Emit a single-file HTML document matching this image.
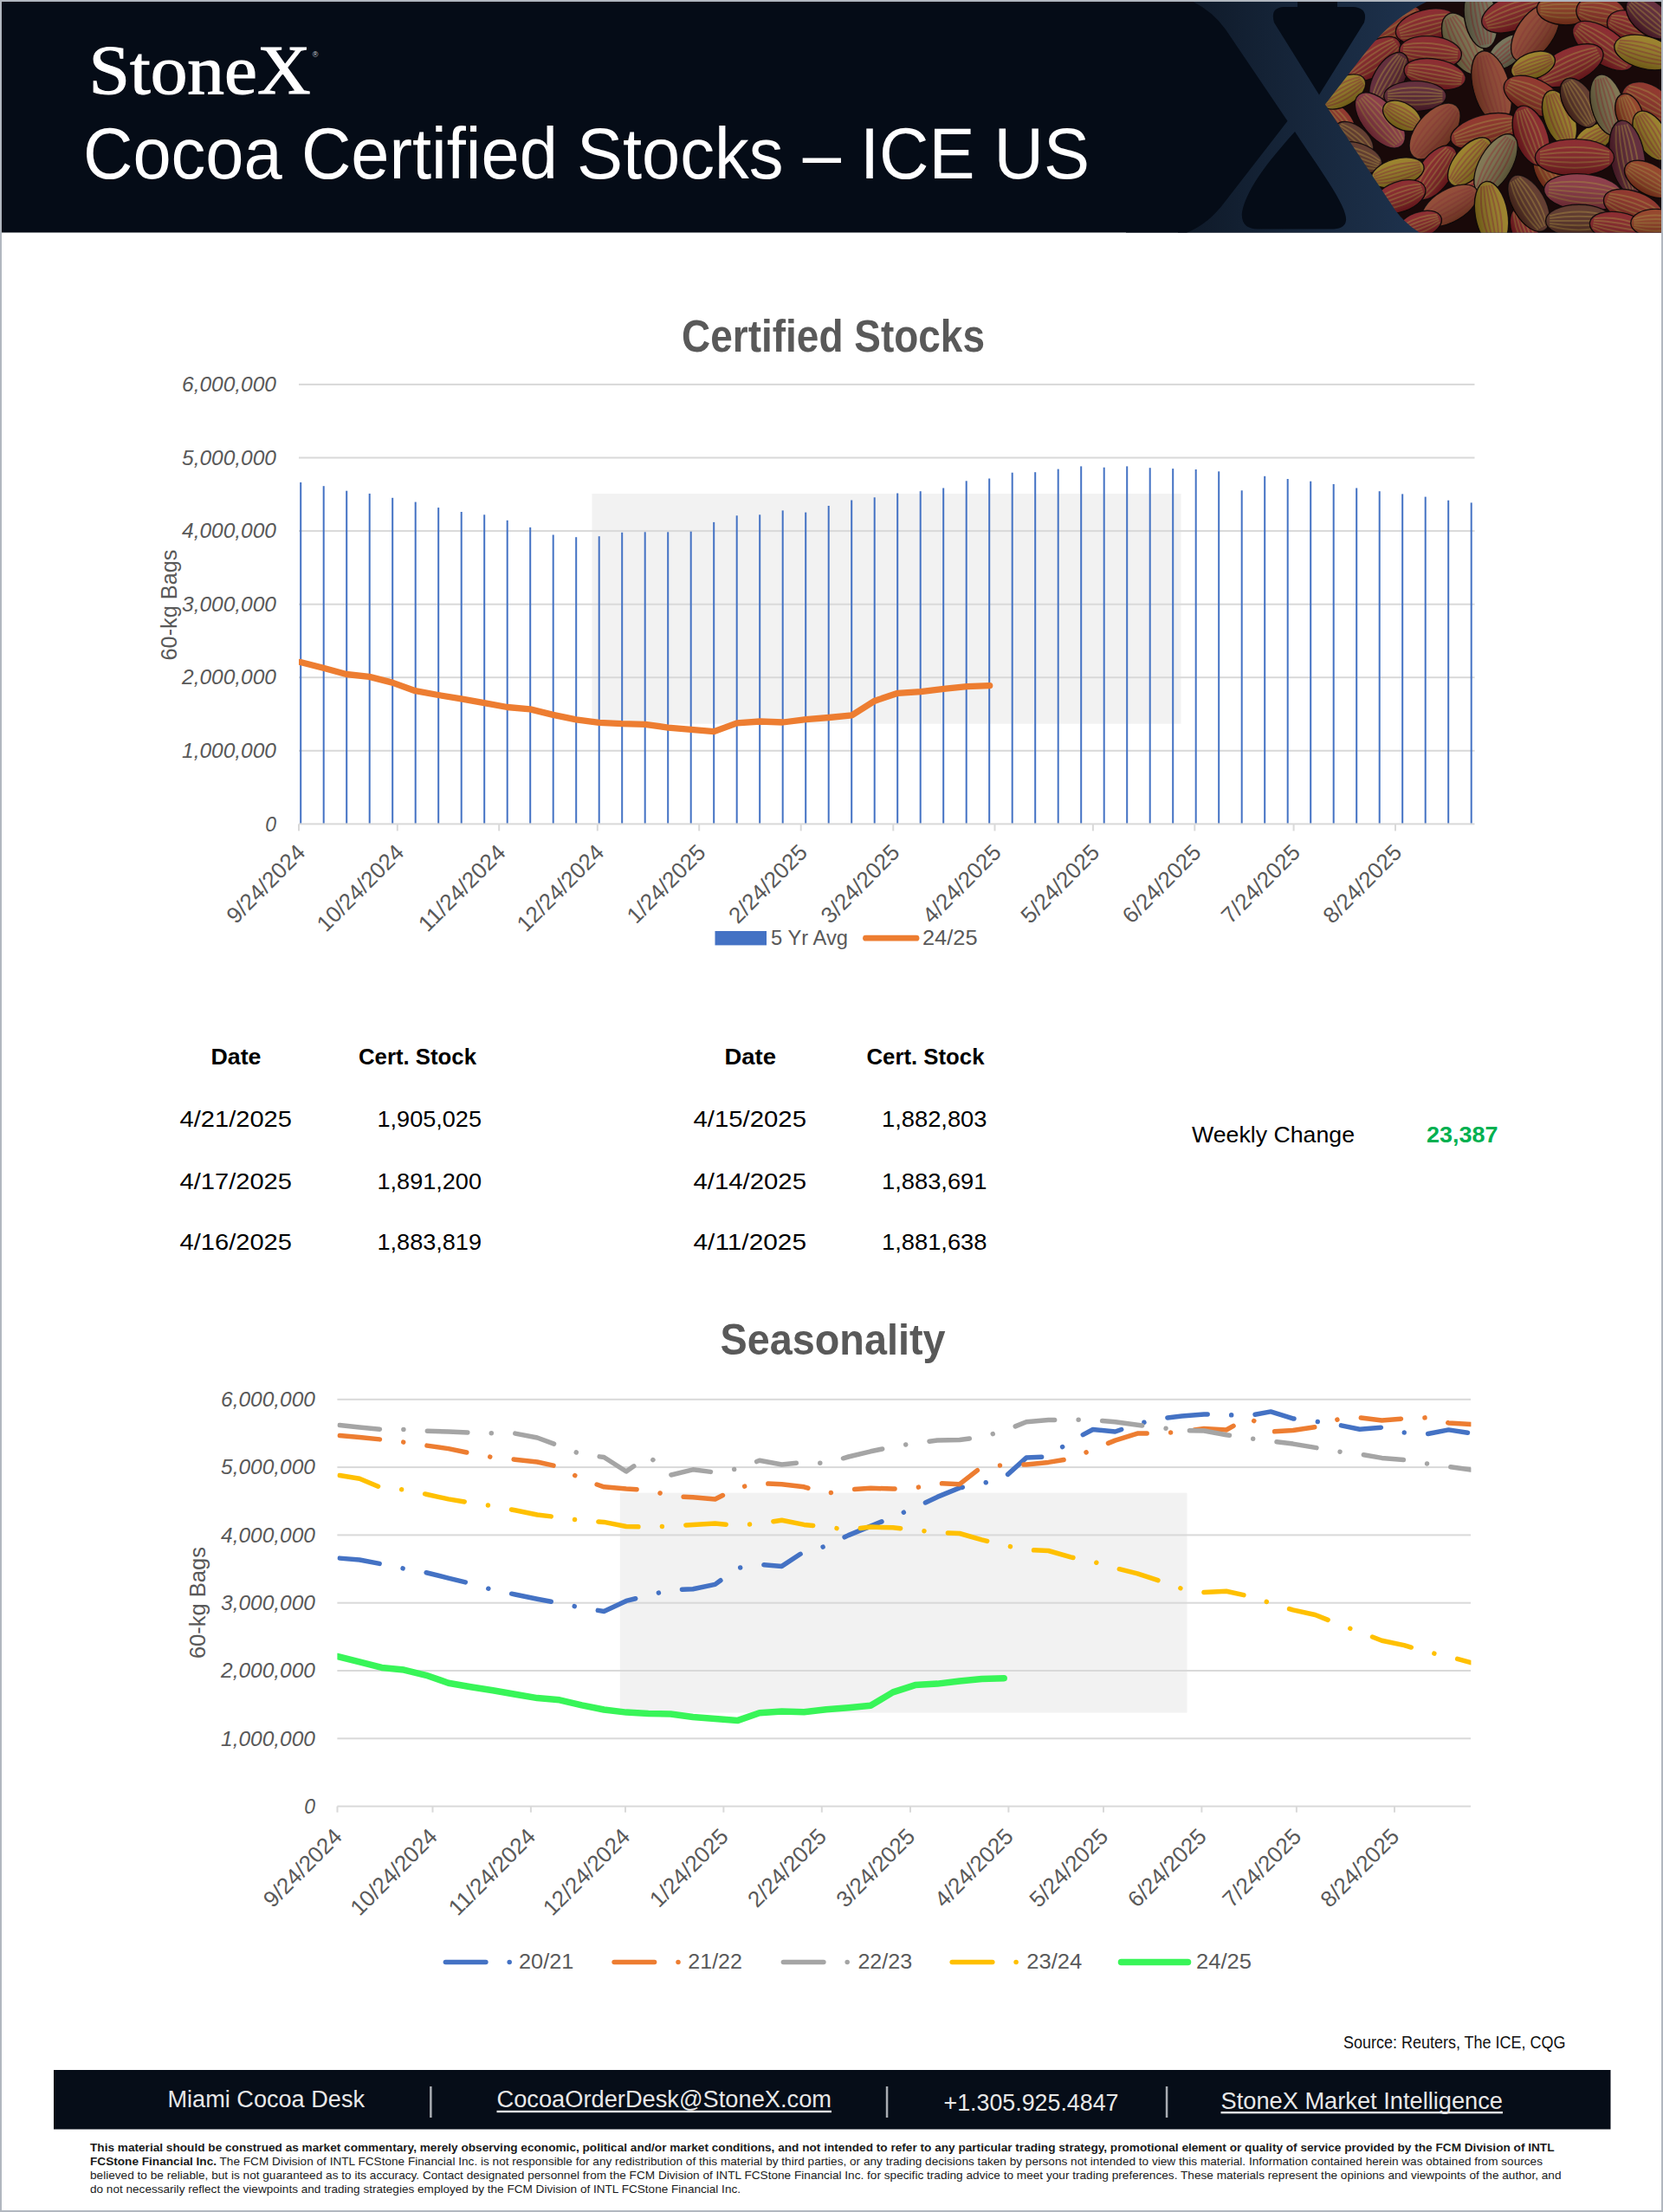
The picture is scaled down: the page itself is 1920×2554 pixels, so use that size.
<!DOCTYPE html>
<html><head><meta charset="utf-8"><style>
html,body{margin:0;padding:0;background:#fff;}
body{width:1920px;height:2554px;overflow:hidden;font-family:"Liberation Sans",sans-serif;}
svg{display:block;}
</style></head><body>
<svg width="1920" height="2554" viewBox="0 0 1920 2554">
<rect x="0" y="0" width="1920" height="2554" fill="#b1b7bf"/>
<rect x="2" y="2" width="1916" height="2550" fill="#ffffff"/>
<rect x="2" y="2" width="1916" height="266.5" fill="#050c17"/>
<defs><linearGradient id="navy" gradientUnits="userSpaceOnUse" x1="1370" x2="1660" y1="0" y2="0"><stop offset="0" stop-color="#0f1a29"/><stop offset="1" stop-color="#1f3450"/></linearGradient><clipPath id="hdr"><rect x="2" y="2" width="1916" height="266.5"/></clipPath></defs>
<g clip-path="url(#hdr)">
<rect x="1360" y="2" width="560" height="267" fill="url(#navy)"/>
<path d="M1300,-5 L1360,-5 Q1395,6 1415,34 L1486.5,139.7 L1415,232 C1400,252 1385,264 1362,272 L1300,272 Z" fill="#050c17"/>
<path d="M1498,-5 L1544,-5 L1544,8 L1562,8 Q1580,9 1575,26 L1523,109.4 L1471,26 Q1466,9 1482,8 L1498,8 Z" fill="#050c17"/>
<path d="M1495,152 C1470,180 1440,215 1434,245 Q1432,264 1452,264.5 L1540,264.5 Q1558,263 1553,247 C1548,228 1520,190 1495,152 Z" fill="#050c17"/>
</g>
<defs><clipPath id="cocoa"><path d="M1530,120.5 L1577,60 C1595,38 1615,16 1656,-2 L1925,-2 L1925,275 L1650,275 Q1625,262 1611,242.8 Z"/></clipPath><linearGradient id="podg" x1="0" x2="0" y1="0" y2="1"><stop offset="0" stop-color="#fff" stop-opacity="0.10"/><stop offset="1" stop-color="#000" stop-opacity="0.30"/></linearGradient></defs>
<defs><filter id="soft" x="-5%" y="-5%" width="110%" height="110%"><feGaussianBlur stdDeviation="0.7"/></filter></defs>
<g clip-path="url(#hdr)"><g clip-path="url(#cocoa)"><g filter="url(#soft)">
<rect x="1520" y="0" width="400" height="270" fill="#241010"/>
<g transform="translate(1590,10) rotate(-30)"><ellipse rx="31.2" ry="16.2" fill="#c8502a" stroke="#160808" stroke-width="1.4"/><path d="M-27.5,-5 Q0,-13.1 27.5,-5" stroke="#e0b048" stroke-opacity="0.5" stroke-width="2" fill="none"/><path d="M-27.5,-2.5 Q0,-6.5 27.5,-2.5" stroke="#e0b048" stroke-opacity="0.5" stroke-width="2" fill="none"/><path d="M-27.5,0 Q0,0 27.5,0" stroke="#e0b048" stroke-opacity="0.5" stroke-width="2" fill="none"/><path d="M-27.5,2.5 Q0,6.5 27.5,2.5" stroke="#e0b048" stroke-opacity="0.5" stroke-width="2" fill="none"/><path d="M-27.5,5 Q0,13.1 27.5,5" stroke="#e0b048" stroke-opacity="0.5" stroke-width="2" fill="none"/><ellipse rx="31.2" ry="16.2" fill="url(#podg)"/></g>
<g transform="translate(1545,140) rotate(50)"><ellipse rx="26.4" ry="15" fill="#c03a2c" stroke="#160808" stroke-width="1.4"/><path d="M-23.2,-4.7 Q0,-12.1 23.2,-4.7" stroke="#e0b048" stroke-opacity="0.5" stroke-width="2" fill="none"/><path d="M-23.2,-2.3 Q0,-6 23.2,-2.3" stroke="#e0b048" stroke-opacity="0.5" stroke-width="2" fill="none"/><path d="M-23.2,0 Q0,0 23.2,0" stroke="#e0b048" stroke-opacity="0.5" stroke-width="2" fill="none"/><path d="M-23.2,2.3 Q0,6 23.2,2.3" stroke="#e0b048" stroke-opacity="0.5" stroke-width="2" fill="none"/><path d="M-23.2,4.7 Q0,12.1 23.2,4.7" stroke="#e0b048" stroke-opacity="0.5" stroke-width="2" fill="none"/><ellipse rx="26.4" ry="15" fill="url(#podg)"/></g>
<g transform="translate(1580,245) rotate(40)"><ellipse rx="28.8" ry="15" fill="#7a402e" stroke="#160808" stroke-width="1.4"/><path d="M-25.3,-4.7 Q0,-12.1 25.3,-4.7" stroke="#e0b048" stroke-opacity="0.5" stroke-width="2" fill="none"/><path d="M-25.3,-2.3 Q0,-6 25.3,-2.3" stroke="#e0b048" stroke-opacity="0.5" stroke-width="2" fill="none"/><path d="M-25.3,0 Q0,0 25.3,0" stroke="#e0b048" stroke-opacity="0.5" stroke-width="2" fill="none"/><path d="M-25.3,2.3 Q0,6 25.3,2.3" stroke="#e0b048" stroke-opacity="0.5" stroke-width="2" fill="none"/><path d="M-25.3,4.7 Q0,12.1 25.3,4.7" stroke="#e0b048" stroke-opacity="0.5" stroke-width="2" fill="none"/><ellipse rx="28.8" ry="15" fill="url(#podg)"/></g>
<g transform="translate(1740,60) rotate(-40)"><ellipse rx="26.4" ry="15" fill="#9a9670" stroke="#160808" stroke-width="1.4"/><path d="M-23.2,-4.7 Q0,-12.1 23.2,-4.7" stroke="#b83838" stroke-opacity="0.5" stroke-width="2" fill="none"/><path d="M-23.2,-2.3 Q0,-6 23.2,-2.3" stroke="#b83838" stroke-opacity="0.5" stroke-width="2" fill="none"/><path d="M-23.2,0 Q0,0 23.2,0" stroke="#b83838" stroke-opacity="0.5" stroke-width="2" fill="none"/><path d="M-23.2,2.3 Q0,6 23.2,2.3" stroke="#b83838" stroke-opacity="0.5" stroke-width="2" fill="none"/><path d="M-23.2,4.7 Q0,12.1 23.2,4.7" stroke="#b83838" stroke-opacity="0.5" stroke-width="2" fill="none"/><ellipse rx="26.4" ry="15" fill="url(#podg)"/></g>
<g transform="translate(1700,220) rotate(-30)"><ellipse rx="24" ry="15" fill="#b8282e" stroke="#160808" stroke-width="1.4"/><path d="M-21.1,-4.7 Q0,-12.1 21.1,-4.7" stroke="#e0b048" stroke-opacity="0.5" stroke-width="2" fill="none"/><path d="M-21.1,-2.3 Q0,-6 21.1,-2.3" stroke="#e0b048" stroke-opacity="0.5" stroke-width="2" fill="none"/><path d="M-21.1,0 Q0,0 21.1,0" stroke="#e0b048" stroke-opacity="0.5" stroke-width="2" fill="none"/><path d="M-21.1,2.3 Q0,6 21.1,2.3" stroke="#e0b048" stroke-opacity="0.5" stroke-width="2" fill="none"/><path d="M-21.1,4.7 Q0,12.1 21.1,4.7" stroke="#e0b048" stroke-opacity="0.5" stroke-width="2" fill="none"/><ellipse rx="24" ry="15" fill="url(#podg)"/></g>
<g transform="translate(1790,200) rotate(60)"><ellipse rx="28.8" ry="16.2" fill="#c8502a" stroke="#160808" stroke-width="1.4"/><path d="M-25.3,-5 Q0,-13.1 25.3,-5" stroke="#e0b048" stroke-opacity="0.5" stroke-width="2" fill="none"/><path d="M-25.3,-2.5 Q0,-6.5 25.3,-2.5" stroke="#e0b048" stroke-opacity="0.5" stroke-width="2" fill="none"/><path d="M-25.3,0 Q0,0 25.3,0" stroke="#e0b048" stroke-opacity="0.5" stroke-width="2" fill="none"/><path d="M-25.3,2.5 Q0,6.5 25.3,2.5" stroke="#e0b048" stroke-opacity="0.5" stroke-width="2" fill="none"/><path d="M-25.3,5 Q0,13.1 25.3,5" stroke="#e0b048" stroke-opacity="0.5" stroke-width="2" fill="none"/><ellipse rx="28.8" ry="16.2" fill="url(#podg)"/></g>
<g transform="translate(1840,160) rotate(-30)"><ellipse rx="24" ry="15" fill="#d0aa2a" stroke="#160808" stroke-width="1.4"/><path d="M-21.1,-4.7 Q0,-12.1 21.1,-4.7" stroke="#b83838" stroke-opacity="0.5" stroke-width="2" fill="none"/><path d="M-21.1,-2.3 Q0,-6 21.1,-2.3" stroke="#b83838" stroke-opacity="0.5" stroke-width="2" fill="none"/><path d="M-21.1,0 Q0,0 21.1,0" stroke="#b83838" stroke-opacity="0.5" stroke-width="2" fill="none"/><path d="M-21.1,2.3 Q0,6 21.1,2.3" stroke="#b83838" stroke-opacity="0.5" stroke-width="2" fill="none"/><path d="M-21.1,4.7 Q0,12.1 21.1,4.7" stroke="#b83838" stroke-opacity="0.5" stroke-width="2" fill="none"/><ellipse rx="24" ry="15" fill="url(#podg)"/></g>
<g transform="translate(1760,265) rotate(70)"><ellipse rx="26.4" ry="15" fill="#b8282e" stroke="#160808" stroke-width="1.4"/><path d="M-23.2,-4.7 Q0,-12.1 23.2,-4.7" stroke="#e0b048" stroke-opacity="0.5" stroke-width="2" fill="none"/><path d="M-23.2,-2.3 Q0,-6 23.2,-2.3" stroke="#e0b048" stroke-opacity="0.5" stroke-width="2" fill="none"/><path d="M-23.2,0 Q0,0 23.2,0" stroke="#e0b048" stroke-opacity="0.5" stroke-width="2" fill="none"/><path d="M-23.2,2.3 Q0,6 23.2,2.3" stroke="#e0b048" stroke-opacity="0.5" stroke-width="2" fill="none"/><path d="M-23.2,4.7 Q0,12.1 23.2,4.7" stroke="#e0b048" stroke-opacity="0.5" stroke-width="2" fill="none"/><ellipse rx="26.4" ry="15" fill="url(#podg)"/></g>
<g transform="translate(1608.6,30.3) rotate(-30)"><ellipse rx="36" ry="18.8" fill="#c03a2c" stroke="#160808" stroke-width="1.4"/><path d="M-31.7,-5.8 Q0,-15.1 31.7,-5.8" stroke="#e0b048" stroke-opacity="0.5" stroke-width="2" fill="none"/><path d="M-31.7,-2.9 Q0,-7.6 31.7,-2.9" stroke="#e0b048" stroke-opacity="0.5" stroke-width="2" fill="none"/><path d="M-31.7,0 Q0,0 31.7,0" stroke="#e0b048" stroke-opacity="0.5" stroke-width="2" fill="none"/><path d="M-31.7,2.9 Q0,7.6 31.7,2.9" stroke="#e0b048" stroke-opacity="0.5" stroke-width="2" fill="none"/><path d="M-31.7,5.8 Q0,15.1 31.7,5.8" stroke="#e0b048" stroke-opacity="0.5" stroke-width="2" fill="none"/><ellipse rx="36" ry="18.8" fill="url(#podg)"/></g>
<g transform="translate(1646.5,30.3) rotate(-15)"><ellipse rx="36" ry="18.8" fill="#b8282e" stroke="#160808" stroke-width="1.4"/><path d="M-31.7,-5.8 Q0,-15.1 31.7,-5.8" stroke="#e0b048" stroke-opacity="0.5" stroke-width="2" fill="none"/><path d="M-31.7,-2.9 Q0,-7.6 31.7,-2.9" stroke="#e0b048" stroke-opacity="0.5" stroke-width="2" fill="none"/><path d="M-31.7,0 Q0,0 31.7,0" stroke="#e0b048" stroke-opacity="0.5" stroke-width="2" fill="none"/><path d="M-31.7,2.9 Q0,7.6 31.7,2.9" stroke="#e0b048" stroke-opacity="0.5" stroke-width="2" fill="none"/><path d="M-31.7,5.8 Q0,15.1 31.7,5.8" stroke="#e0b048" stroke-opacity="0.5" stroke-width="2" fill="none"/><ellipse rx="36" ry="18.8" fill="url(#podg)"/></g>
<g transform="translate(1689.4,50.5) rotate(63)"><ellipse rx="38.4" ry="20" fill="#a89a64" stroke="#160808" stroke-width="1.4"/><path d="M-33.8,-6.2 Q0,-16.1 33.8,-6.2" stroke="#b83838" stroke-opacity="0.5" stroke-width="2" fill="none"/><path d="M-33.8,-3.1 Q0,-8.1 33.8,-3.1" stroke="#b83838" stroke-opacity="0.5" stroke-width="2" fill="none"/><path d="M-33.8,0 Q0,0 33.8,0" stroke="#b83838" stroke-opacity="0.5" stroke-width="2" fill="none"/><path d="M-33.8,3.1 Q0,8.1 33.8,3.1" stroke="#b83838" stroke-opacity="0.5" stroke-width="2" fill="none"/><path d="M-33.8,6.2 Q0,16.1 33.8,6.2" stroke="#b83838" stroke-opacity="0.5" stroke-width="2" fill="none"/><ellipse rx="38.4" ry="20" fill="url(#podg)"/></g>
<g transform="translate(1709.6,20.2) rotate(80)"><ellipse rx="36" ry="18.8" fill="#9a9670" stroke="#160808" stroke-width="1.4"/><path d="M-31.7,-5.8 Q0,-15.1 31.7,-5.8" stroke="#b83838" stroke-opacity="0.5" stroke-width="2" fill="none"/><path d="M-31.7,-2.9 Q0,-7.6 31.7,-2.9" stroke="#b83838" stroke-opacity="0.5" stroke-width="2" fill="none"/><path d="M-31.7,0 Q0,0 31.7,0" stroke="#b83838" stroke-opacity="0.5" stroke-width="2" fill="none"/><path d="M-31.7,2.9 Q0,7.6 31.7,2.9" stroke="#b83838" stroke-opacity="0.5" stroke-width="2" fill="none"/><path d="M-31.7,5.8 Q0,15.1 31.7,5.8" stroke="#b83838" stroke-opacity="0.5" stroke-width="2" fill="none"/><ellipse rx="36" ry="18.8" fill="url(#podg)"/></g>
<g transform="translate(1747.5,15.2) rotate(-20)"><ellipse rx="38.4" ry="20" fill="#b8282e" stroke="#160808" stroke-width="1.4"/><path d="M-33.8,-6.2 Q0,-16.1 33.8,-6.2" stroke="#e0b048" stroke-opacity="0.5" stroke-width="2" fill="none"/><path d="M-33.8,-3.1 Q0,-8.1 33.8,-3.1" stroke="#e0b048" stroke-opacity="0.5" stroke-width="2" fill="none"/><path d="M-33.8,0 Q0,0 33.8,0" stroke="#e0b048" stroke-opacity="0.5" stroke-width="2" fill="none"/><path d="M-33.8,3.1 Q0,8.1 33.8,3.1" stroke="#e0b048" stroke-opacity="0.5" stroke-width="2" fill="none"/><path d="M-33.8,6.2 Q0,16.1 33.8,6.2" stroke="#e0b048" stroke-opacity="0.5" stroke-width="2" fill="none"/><ellipse rx="38.4" ry="20" fill="url(#podg)"/></g>
<g transform="translate(1772.7,37.9) rotate(-55)"><ellipse rx="38.4" ry="21.2" fill="#c45a3a" stroke="#160808" stroke-width="1.4"/><path d="M-33.8,-6.6 Q0,-17.1 33.8,-6.6" stroke="#b83838" stroke-opacity="0.5" stroke-width="2" fill="none"/><path d="M-33.8,-3.3 Q0,-8.6 33.8,-3.3" stroke="#b83838" stroke-opacity="0.5" stroke-width="2" fill="none"/><path d="M-33.8,0 Q0,0 33.8,0" stroke="#b83838" stroke-opacity="0.5" stroke-width="2" fill="none"/><path d="M-33.8,3.3 Q0,8.6 33.8,3.3" stroke="#b83838" stroke-opacity="0.5" stroke-width="2" fill="none"/><path d="M-33.8,6.6 Q0,17.1 33.8,6.6" stroke="#b83838" stroke-opacity="0.5" stroke-width="2" fill="none"/><ellipse rx="38.4" ry="21.2" fill="url(#podg)"/></g>
<g transform="translate(1808,10.1) rotate(0)"><ellipse rx="33.6" ry="18.8" fill="#c8502a" stroke="#160808" stroke-width="1.4"/><path d="M-29.6,-5.8 Q0,-15.1 29.6,-5.8" stroke="#e0b048" stroke-opacity="0.5" stroke-width="2" fill="none"/><path d="M-29.6,-2.9 Q0,-7.6 29.6,-2.9" stroke="#e0b048" stroke-opacity="0.5" stroke-width="2" fill="none"/><path d="M-29.6,0 Q0,0 29.6,0" stroke="#e0b048" stroke-opacity="0.5" stroke-width="2" fill="none"/><path d="M-29.6,2.9 Q0,7.6 29.6,2.9" stroke="#e0b048" stroke-opacity="0.5" stroke-width="2" fill="none"/><path d="M-29.6,5.8 Q0,15.1 29.6,5.8" stroke="#e0b048" stroke-opacity="0.5" stroke-width="2" fill="none"/><ellipse rx="33.6" ry="18.8" fill="url(#podg)"/></g>
<g transform="translate(1848.5,15.2) rotate(10)"><ellipse rx="28.8" ry="20" fill="#c03a2c" stroke="#160808" stroke-width="1.4"/><path d="M-25.3,-6.2 Q0,-16.1 25.3,-6.2" stroke="#e0b048" stroke-opacity="0.5" stroke-width="2" fill="none"/><path d="M-25.3,-3.1 Q0,-8.1 25.3,-3.1" stroke="#e0b048" stroke-opacity="0.5" stroke-width="2" fill="none"/><path d="M-25.3,0 Q0,0 25.3,0" stroke="#e0b048" stroke-opacity="0.5" stroke-width="2" fill="none"/><path d="M-25.3,3.1 Q0,8.1 25.3,3.1" stroke="#e0b048" stroke-opacity="0.5" stroke-width="2" fill="none"/><path d="M-25.3,6.2 Q0,16.1 25.3,6.2" stroke="#e0b048" stroke-opacity="0.5" stroke-width="2" fill="none"/><ellipse rx="28.8" ry="20" fill="url(#podg)"/></g>
<g transform="translate(1878.8,30.3) rotate(20)"><ellipse rx="24" ry="17.5" fill="#b8282e" stroke="#160808" stroke-width="1.4"/><path d="M-21.1,-5.4 Q0,-14.1 21.1,-5.4" stroke="#e0b048" stroke-opacity="0.5" stroke-width="2" fill="none"/><path d="M-21.1,-2.7 Q0,-7.1 21.1,-2.7" stroke="#e0b048" stroke-opacity="0.5" stroke-width="2" fill="none"/><path d="M-21.1,0 Q0,0 21.1,0" stroke="#e0b048" stroke-opacity="0.5" stroke-width="2" fill="none"/><path d="M-21.1,2.7 Q0,7.1 21.1,2.7" stroke="#e0b048" stroke-opacity="0.5" stroke-width="2" fill="none"/><path d="M-21.1,5.4 Q0,14.1 21.1,5.4" stroke="#e0b048" stroke-opacity="0.5" stroke-width="2" fill="none"/><ellipse rx="24" ry="17.5" fill="url(#podg)"/></g>
<g transform="translate(1904,20.2) rotate(40)"><ellipse rx="31.2" ry="18.8" fill="#7c2c40" stroke="#160808" stroke-width="1.4"/><path d="M-27.5,-5.8 Q0,-15.1 27.5,-5.8" stroke="#e0b048" stroke-opacity="0.5" stroke-width="2" fill="none"/><path d="M-27.5,-2.9 Q0,-7.6 27.5,-2.9" stroke="#e0b048" stroke-opacity="0.5" stroke-width="2" fill="none"/><path d="M-27.5,0 Q0,0 27.5,0" stroke="#e0b048" stroke-opacity="0.5" stroke-width="2" fill="none"/><path d="M-27.5,2.9 Q0,7.6 27.5,2.9" stroke="#e0b048" stroke-opacity="0.5" stroke-width="2" fill="none"/><path d="M-27.5,5.8 Q0,15.1 27.5,5.8" stroke="#e0b048" stroke-opacity="0.5" stroke-width="2" fill="none"/><ellipse rx="31.2" ry="18.8" fill="url(#podg)"/></g>
<g transform="translate(1851,53) rotate(35)"><ellipse rx="40.8" ry="20" fill="#b8282e" stroke="#160808" stroke-width="1.4"/><path d="M-35.9,-6.2 Q0,-16.1 35.9,-6.2" stroke="#e0b048" stroke-opacity="0.5" stroke-width="2" fill="none"/><path d="M-35.9,-3.1 Q0,-8.1 35.9,-3.1" stroke="#e0b048" stroke-opacity="0.5" stroke-width="2" fill="none"/><path d="M-35.9,0 Q0,0 35.9,0" stroke="#e0b048" stroke-opacity="0.5" stroke-width="2" fill="none"/><path d="M-35.9,3.1 Q0,8.1 35.9,3.1" stroke="#e0b048" stroke-opacity="0.5" stroke-width="2" fill="none"/><path d="M-35.9,6.2 Q0,16.1 35.9,6.2" stroke="#e0b048" stroke-opacity="0.5" stroke-width="2" fill="none"/><ellipse rx="40.8" ry="20" fill="url(#podg)"/></g>
<g transform="translate(1899,60.6) rotate(15)"><ellipse rx="36" ry="18.8" fill="#d0aa2a" stroke="#160808" stroke-width="1.4"/><path d="M-31.7,-5.8 Q0,-15.1 31.7,-5.8" stroke="#b83838" stroke-opacity="0.5" stroke-width="2" fill="none"/><path d="M-31.7,-2.9 Q0,-7.6 31.7,-2.9" stroke="#b83838" stroke-opacity="0.5" stroke-width="2" fill="none"/><path d="M-31.7,0 Q0,0 31.7,0" stroke="#b83838" stroke-opacity="0.5" stroke-width="2" fill="none"/><path d="M-31.7,2.9 Q0,7.6 31.7,2.9" stroke="#b83838" stroke-opacity="0.5" stroke-width="2" fill="none"/><path d="M-31.7,5.8 Q0,15.1 31.7,5.8" stroke="#b83838" stroke-opacity="0.5" stroke-width="2" fill="none"/><ellipse rx="36" ry="18.8" fill="url(#podg)"/></g>
<g transform="translate(1813,75.8) rotate(-25)"><ellipse rx="40.8" ry="20" fill="#b8282e" stroke="#160808" stroke-width="1.4"/><path d="M-35.9,-6.2 Q0,-16.1 35.9,-6.2" stroke="#e0b048" stroke-opacity="0.5" stroke-width="2" fill="none"/><path d="M-35.9,-3.1 Q0,-8.1 35.9,-3.1" stroke="#e0b048" stroke-opacity="0.5" stroke-width="2" fill="none"/><path d="M-35.9,0 Q0,0 35.9,0" stroke="#e0b048" stroke-opacity="0.5" stroke-width="2" fill="none"/><path d="M-35.9,3.1 Q0,8.1 35.9,3.1" stroke="#e0b048" stroke-opacity="0.5" stroke-width="2" fill="none"/><path d="M-35.9,6.2 Q0,16.1 35.9,6.2" stroke="#e0b048" stroke-opacity="0.5" stroke-width="2" fill="none"/><ellipse rx="40.8" ry="20" fill="url(#podg)"/></g>
<g transform="translate(1770,75.8) rotate(-20)"><ellipse rx="26.4" ry="15" fill="#d0aa2a" stroke="#160808" stroke-width="1.4"/><path d="M-23.2,-4.7 Q0,-12.1 23.2,-4.7" stroke="#b83838" stroke-opacity="0.5" stroke-width="2" fill="none"/><path d="M-23.2,-2.3 Q0,-6 23.2,-2.3" stroke="#b83838" stroke-opacity="0.5" stroke-width="2" fill="none"/><path d="M-23.2,0 Q0,0 23.2,0" stroke="#b83838" stroke-opacity="0.5" stroke-width="2" fill="none"/><path d="M-23.2,2.3 Q0,6 23.2,2.3" stroke="#b83838" stroke-opacity="0.5" stroke-width="2" fill="none"/><path d="M-23.2,4.7 Q0,12.1 23.2,4.7" stroke="#b83838" stroke-opacity="0.5" stroke-width="2" fill="none"/><ellipse rx="26.4" ry="15" fill="url(#podg)"/></g>
<g transform="translate(1722,101) rotate(75)"><ellipse rx="43.2" ry="21.2" fill="#c45a3a" stroke="#160808" stroke-width="1.4"/><path d="M-38,-6.6 Q0,-17.1 38,-6.6" stroke="#b83838" stroke-opacity="0.5" stroke-width="2" fill="none"/><path d="M-38,-3.3 Q0,-8.6 38,-3.3" stroke="#b83838" stroke-opacity="0.5" stroke-width="2" fill="none"/><path d="M-38,0 Q0,0 38,0" stroke="#b83838" stroke-opacity="0.5" stroke-width="2" fill="none"/><path d="M-38,3.3 Q0,8.6 38,3.3" stroke="#b83838" stroke-opacity="0.5" stroke-width="2" fill="none"/><path d="M-38,6.6 Q0,17.1 38,6.6" stroke="#b83838" stroke-opacity="0.5" stroke-width="2" fill="none"/><ellipse rx="43.2" ry="21.2" fill="url(#podg)"/></g>
<g transform="translate(1770,111) rotate(25)"><ellipse rx="36" ry="20" fill="#c03a2c" stroke="#160808" stroke-width="1.4"/><path d="M-31.7,-6.2 Q0,-16.1 31.7,-6.2" stroke="#e0b048" stroke-opacity="0.5" stroke-width="2" fill="none"/><path d="M-31.7,-3.1 Q0,-8.1 31.7,-3.1" stroke="#e0b048" stroke-opacity="0.5" stroke-width="2" fill="none"/><path d="M-31.7,0 Q0,0 31.7,0" stroke="#e0b048" stroke-opacity="0.5" stroke-width="2" fill="none"/><path d="M-31.7,3.1 Q0,8.1 31.7,3.1" stroke="#e0b048" stroke-opacity="0.5" stroke-width="2" fill="none"/><path d="M-31.7,6.2 Q0,16.1 31.7,6.2" stroke="#e0b048" stroke-opacity="0.5" stroke-width="2" fill="none"/><ellipse rx="36" ry="20" fill="url(#podg)"/></g>
<g transform="translate(1800.5,136.4) rotate(70)"><ellipse rx="33.6" ry="17.5" fill="#d0aa2a" stroke="#160808" stroke-width="1.4"/><path d="M-29.6,-5.4 Q0,-14.1 29.6,-5.4" stroke="#b83838" stroke-opacity="0.5" stroke-width="2" fill="none"/><path d="M-29.6,-2.7 Q0,-7.1 29.6,-2.7" stroke="#b83838" stroke-opacity="0.5" stroke-width="2" fill="none"/><path d="M-29.6,0 Q0,0 29.6,0" stroke="#b83838" stroke-opacity="0.5" stroke-width="2" fill="none"/><path d="M-29.6,2.7 Q0,7.1 29.6,2.7" stroke="#b83838" stroke-opacity="0.5" stroke-width="2" fill="none"/><path d="M-29.6,5.4 Q0,14.1 29.6,5.4" stroke="#b83838" stroke-opacity="0.5" stroke-width="2" fill="none"/><ellipse rx="33.6" ry="17.5" fill="url(#podg)"/></g>
<g transform="translate(1823,118.7) rotate(60)"><ellipse rx="31.2" ry="17.5" fill="#7a402e" stroke="#160808" stroke-width="1.4"/><path d="M-27.5,-5.4 Q0,-14.1 27.5,-5.4" stroke="#e0b048" stroke-opacity="0.5" stroke-width="2" fill="none"/><path d="M-27.5,-2.7 Q0,-7.1 27.5,-2.7" stroke="#e0b048" stroke-opacity="0.5" stroke-width="2" fill="none"/><path d="M-27.5,0 Q0,0 27.5,0" stroke="#e0b048" stroke-opacity="0.5" stroke-width="2" fill="none"/><path d="M-27.5,2.7 Q0,7.1 27.5,2.7" stroke="#e0b048" stroke-opacity="0.5" stroke-width="2" fill="none"/><path d="M-27.5,5.4 Q0,14.1 27.5,5.4" stroke="#e0b048" stroke-opacity="0.5" stroke-width="2" fill="none"/><ellipse rx="31.2" ry="17.5" fill="url(#podg)"/></g>
<g transform="translate(1856,121.2) rotate(75)"><ellipse rx="36" ry="18.8" fill="#a89a64" stroke="#160808" stroke-width="1.4"/><path d="M-31.7,-5.8 Q0,-15.1 31.7,-5.8" stroke="#b83838" stroke-opacity="0.5" stroke-width="2" fill="none"/><path d="M-31.7,-2.9 Q0,-7.6 31.7,-2.9" stroke="#b83838" stroke-opacity="0.5" stroke-width="2" fill="none"/><path d="M-31.7,0 Q0,0 31.7,0" stroke="#b83838" stroke-opacity="0.5" stroke-width="2" fill="none"/><path d="M-31.7,2.9 Q0,7.6 31.7,2.9" stroke="#b83838" stroke-opacity="0.5" stroke-width="2" fill="none"/><path d="M-31.7,5.8 Q0,15.1 31.7,5.8" stroke="#b83838" stroke-opacity="0.5" stroke-width="2" fill="none"/><ellipse rx="36" ry="18.8" fill="url(#podg)"/></g>
<g transform="translate(1901.5,118.7) rotate(30)"><ellipse rx="31.2" ry="21.2" fill="#c03a2c" stroke="#160808" stroke-width="1.4"/><path d="M-27.5,-6.6 Q0,-17.1 27.5,-6.6" stroke="#e0b048" stroke-opacity="0.5" stroke-width="2" fill="none"/><path d="M-27.5,-3.3 Q0,-8.6 27.5,-3.3" stroke="#e0b048" stroke-opacity="0.5" stroke-width="2" fill="none"/><path d="M-27.5,0 Q0,0 27.5,0" stroke="#e0b048" stroke-opacity="0.5" stroke-width="2" fill="none"/><path d="M-27.5,3.3 Q0,8.6 27.5,3.3" stroke="#e0b048" stroke-opacity="0.5" stroke-width="2" fill="none"/><path d="M-27.5,6.6 Q0,17.1 27.5,6.6" stroke="#e0b048" stroke-opacity="0.5" stroke-width="2" fill="none"/><ellipse rx="31.2" ry="21.2" fill="url(#podg)"/></g>
<g transform="translate(1881,131.3) rotate(70)"><ellipse rx="24" ry="15" fill="#c8502a" stroke="#160808" stroke-width="1.4"/><path d="M-21.1,-4.7 Q0,-12.1 21.1,-4.7" stroke="#e0b048" stroke-opacity="0.5" stroke-width="2" fill="none"/><path d="M-21.1,-2.3 Q0,-6 21.1,-2.3" stroke="#e0b048" stroke-opacity="0.5" stroke-width="2" fill="none"/><path d="M-21.1,0 Q0,0 21.1,0" stroke="#e0b048" stroke-opacity="0.5" stroke-width="2" fill="none"/><path d="M-21.1,2.3 Q0,6 21.1,2.3" stroke="#e0b048" stroke-opacity="0.5" stroke-width="2" fill="none"/><path d="M-21.1,4.7 Q0,12.1 21.1,4.7" stroke="#e0b048" stroke-opacity="0.5" stroke-width="2" fill="none"/><ellipse rx="24" ry="15" fill="url(#podg)"/></g>
<g transform="translate(1906.6,156.6) rotate(60)"><ellipse rx="31.2" ry="17.5" fill="#d0aa2a" stroke="#160808" stroke-width="1.4"/><path d="M-27.5,-5.4 Q0,-14.1 27.5,-5.4" stroke="#b83838" stroke-opacity="0.5" stroke-width="2" fill="none"/><path d="M-27.5,-2.7 Q0,-7.1 27.5,-2.7" stroke="#b83838" stroke-opacity="0.5" stroke-width="2" fill="none"/><path d="M-27.5,0 Q0,0 27.5,0" stroke="#b83838" stroke-opacity="0.5" stroke-width="2" fill="none"/><path d="M-27.5,2.7 Q0,7.1 27.5,2.7" stroke="#b83838" stroke-opacity="0.5" stroke-width="2" fill="none"/><path d="M-27.5,5.4 Q0,14.1 27.5,5.4" stroke="#b83838" stroke-opacity="0.5" stroke-width="2" fill="none"/><ellipse rx="31.2" ry="17.5" fill="url(#podg)"/></g>
<g transform="translate(1878.8,181.8) rotate(80)"><ellipse rx="43.2" ry="20" fill="#7c2c40" stroke="#160808" stroke-width="1.4"/><path d="M-38,-6.2 Q0,-16.1 38,-6.2" stroke="#e0b048" stroke-opacity="0.5" stroke-width="2" fill="none"/><path d="M-38,-3.1 Q0,-8.1 38,-3.1" stroke="#e0b048" stroke-opacity="0.5" stroke-width="2" fill="none"/><path d="M-38,0 Q0,0 38,0" stroke="#e0b048" stroke-opacity="0.5" stroke-width="2" fill="none"/><path d="M-38,3.1 Q0,8.1 38,3.1" stroke="#e0b048" stroke-opacity="0.5" stroke-width="2" fill="none"/><path d="M-38,6.2 Q0,16.1 38,6.2" stroke="#e0b048" stroke-opacity="0.5" stroke-width="2" fill="none"/><ellipse rx="43.2" ry="20" fill="url(#podg)"/></g>
<g transform="translate(1585.9,68.2) rotate(-35)"><ellipse rx="36" ry="18.8" fill="#b8282e" stroke="#160808" stroke-width="1.4"/><path d="M-31.7,-5.8 Q0,-15.1 31.7,-5.8" stroke="#e0b048" stroke-opacity="0.5" stroke-width="2" fill="none"/><path d="M-31.7,-2.9 Q0,-7.6 31.7,-2.9" stroke="#e0b048" stroke-opacity="0.5" stroke-width="2" fill="none"/><path d="M-31.7,0 Q0,0 31.7,0" stroke="#e0b048" stroke-opacity="0.5" stroke-width="2" fill="none"/><path d="M-31.7,2.9 Q0,7.6 31.7,2.9" stroke="#e0b048" stroke-opacity="0.5" stroke-width="2" fill="none"/><path d="M-31.7,5.8 Q0,15.1 31.7,5.8" stroke="#e0b048" stroke-opacity="0.5" stroke-width="2" fill="none"/><ellipse rx="36" ry="18.8" fill="url(#podg)"/></g>
<g transform="translate(1651.5,60.6) rotate(5)"><ellipse rx="36" ry="18.8" fill="#b8282e" stroke="#160808" stroke-width="1.4"/><path d="M-31.7,-5.8 Q0,-15.1 31.7,-5.8" stroke="#e0b048" stroke-opacity="0.5" stroke-width="2" fill="none"/><path d="M-31.7,-2.9 Q0,-7.6 31.7,-2.9" stroke="#e0b048" stroke-opacity="0.5" stroke-width="2" fill="none"/><path d="M-31.7,0 Q0,0 31.7,0" stroke="#e0b048" stroke-opacity="0.5" stroke-width="2" fill="none"/><path d="M-31.7,2.9 Q0,7.6 31.7,2.9" stroke="#e0b048" stroke-opacity="0.5" stroke-width="2" fill="none"/><path d="M-31.7,5.8 Q0,15.1 31.7,5.8" stroke="#e0b048" stroke-opacity="0.5" stroke-width="2" fill="none"/><ellipse rx="36" ry="18.8" fill="url(#podg)"/></g>
<g transform="translate(1603.5,90.9) rotate(-60)"><ellipse rx="33.6" ry="17.5" fill="#7c2c40" stroke="#160808" stroke-width="1.4"/><path d="M-29.6,-5.4 Q0,-14.1 29.6,-5.4" stroke="#e0b048" stroke-opacity="0.5" stroke-width="2" fill="none"/><path d="M-29.6,-2.7 Q0,-7.1 29.6,-2.7" stroke="#e0b048" stroke-opacity="0.5" stroke-width="2" fill="none"/><path d="M-29.6,0 Q0,0 29.6,0" stroke="#e0b048" stroke-opacity="0.5" stroke-width="2" fill="none"/><path d="M-29.6,2.7 Q0,7.1 29.6,2.7" stroke="#e0b048" stroke-opacity="0.5" stroke-width="2" fill="none"/><path d="M-29.6,5.4 Q0,14.1 29.6,5.4" stroke="#e0b048" stroke-opacity="0.5" stroke-width="2" fill="none"/><ellipse rx="33.6" ry="17.5" fill="url(#podg)"/></g>
<g transform="translate(1656.6,85.9) rotate(10)"><ellipse rx="36" ry="17.5" fill="#b8282e" stroke="#160808" stroke-width="1.4"/><path d="M-31.7,-5.4 Q0,-14.1 31.7,-5.4" stroke="#e0b048" stroke-opacity="0.5" stroke-width="2" fill="none"/><path d="M-31.7,-2.7 Q0,-7.1 31.7,-2.7" stroke="#e0b048" stroke-opacity="0.5" stroke-width="2" fill="none"/><path d="M-31.7,0 Q0,0 31.7,0" stroke="#e0b048" stroke-opacity="0.5" stroke-width="2" fill="none"/><path d="M-31.7,2.7 Q0,7.1 31.7,2.7" stroke="#e0b048" stroke-opacity="0.5" stroke-width="2" fill="none"/><path d="M-31.7,5.4 Q0,14.1 31.7,5.4" stroke="#e0b048" stroke-opacity="0.5" stroke-width="2" fill="none"/><ellipse rx="36" ry="17.5" fill="url(#podg)"/></g>
<g transform="translate(1633.8,111.1) rotate(0)"><ellipse rx="36" ry="17.5" fill="#7c2c40" stroke="#160808" stroke-width="1.4"/><path d="M-31.7,-5.4 Q0,-14.1 31.7,-5.4" stroke="#e0b048" stroke-opacity="0.5" stroke-width="2" fill="none"/><path d="M-31.7,-2.7 Q0,-7.1 31.7,-2.7" stroke="#e0b048" stroke-opacity="0.5" stroke-width="2" fill="none"/><path d="M-31.7,0 Q0,0 31.7,0" stroke="#e0b048" stroke-opacity="0.5" stroke-width="2" fill="none"/><path d="M-31.7,2.7 Q0,7.1 31.7,2.7" stroke="#e0b048" stroke-opacity="0.5" stroke-width="2" fill="none"/><path d="M-31.7,5.4 Q0,14.1 31.7,5.4" stroke="#e0b048" stroke-opacity="0.5" stroke-width="2" fill="none"/><ellipse rx="36" ry="17.5" fill="url(#podg)"/></g>
<g transform="translate(1550.5,106) rotate(-30)"><ellipse rx="28.8" ry="16.2" fill="#d0aa2a" stroke="#160808" stroke-width="1.4"/><path d="M-25.3,-5 Q0,-13.1 25.3,-5" stroke="#b83838" stroke-opacity="0.5" stroke-width="2" fill="none"/><path d="M-25.3,-2.5 Q0,-6.5 25.3,-2.5" stroke="#b83838" stroke-opacity="0.5" stroke-width="2" fill="none"/><path d="M-25.3,0 Q0,0 25.3,0" stroke="#b83838" stroke-opacity="0.5" stroke-width="2" fill="none"/><path d="M-25.3,2.5 Q0,6.5 25.3,2.5" stroke="#b83838" stroke-opacity="0.5" stroke-width="2" fill="none"/><path d="M-25.3,5 Q0,13.1 25.3,5" stroke="#b83838" stroke-opacity="0.5" stroke-width="2" fill="none"/><ellipse rx="28.8" ry="16.2" fill="url(#podg)"/></g>
<g transform="translate(1593.4,138.9) rotate(50)"><ellipse rx="38.4" ry="20" fill="#bc4456" stroke="#160808" stroke-width="1.4"/><path d="M-33.8,-6.2 Q0,-16.1 33.8,-6.2" stroke="#e0b048" stroke-opacity="0.5" stroke-width="2" fill="none"/><path d="M-33.8,-3.1 Q0,-8.1 33.8,-3.1" stroke="#e0b048" stroke-opacity="0.5" stroke-width="2" fill="none"/><path d="M-33.8,0 Q0,0 33.8,0" stroke="#e0b048" stroke-opacity="0.5" stroke-width="2" fill="none"/><path d="M-33.8,3.1 Q0,8.1 33.8,3.1" stroke="#e0b048" stroke-opacity="0.5" stroke-width="2" fill="none"/><path d="M-33.8,6.2 Q0,16.1 33.8,6.2" stroke="#e0b048" stroke-opacity="0.5" stroke-width="2" fill="none"/><ellipse rx="38.4" ry="20" fill="url(#podg)"/></g>
<g transform="translate(1618.7,133.8) rotate(30)"><ellipse rx="24" ry="15" fill="#d0aa2a" stroke="#160808" stroke-width="1.4"/><path d="M-21.1,-4.7 Q0,-12.1 21.1,-4.7" stroke="#b83838" stroke-opacity="0.5" stroke-width="2" fill="none"/><path d="M-21.1,-2.3 Q0,-6 21.1,-2.3" stroke="#b83838" stroke-opacity="0.5" stroke-width="2" fill="none"/><path d="M-21.1,0 Q0,0 21.1,0" stroke="#b83838" stroke-opacity="0.5" stroke-width="2" fill="none"/><path d="M-21.1,2.3 Q0,6 21.1,2.3" stroke="#b83838" stroke-opacity="0.5" stroke-width="2" fill="none"/><path d="M-21.1,4.7 Q0,12.1 21.1,4.7" stroke="#b83838" stroke-opacity="0.5" stroke-width="2" fill="none"/><ellipse rx="24" ry="15" fill="url(#podg)"/></g>
<g transform="translate(1656.6,151.5) rotate(-50)"><ellipse rx="38.4" ry="21.2" fill="#c45a3a" stroke="#160808" stroke-width="1.4"/><path d="M-33.8,-6.6 Q0,-17.1 33.8,-6.6" stroke="#b83838" stroke-opacity="0.5" stroke-width="2" fill="none"/><path d="M-33.8,-3.3 Q0,-8.6 33.8,-3.3" stroke="#b83838" stroke-opacity="0.5" stroke-width="2" fill="none"/><path d="M-33.8,0 Q0,0 33.8,0" stroke="#b83838" stroke-opacity="0.5" stroke-width="2" fill="none"/><path d="M-33.8,3.3 Q0,8.6 33.8,3.3" stroke="#b83838" stroke-opacity="0.5" stroke-width="2" fill="none"/><path d="M-33.8,6.6 Q0,17.1 33.8,6.6" stroke="#b83838" stroke-opacity="0.5" stroke-width="2" fill="none"/><ellipse rx="38.4" ry="21.2" fill="url(#podg)"/></g>
<g transform="translate(1714.6,151.5) rotate(-15)"><ellipse rx="40.8" ry="18.8" fill="#c03a2c" stroke="#160808" stroke-width="1.4"/><path d="M-35.9,-5.8 Q0,-15.1 35.9,-5.8" stroke="#e0b048" stroke-opacity="0.5" stroke-width="2" fill="none"/><path d="M-35.9,-2.9 Q0,-7.6 35.9,-2.9" stroke="#e0b048" stroke-opacity="0.5" stroke-width="2" fill="none"/><path d="M-35.9,0 Q0,0 35.9,0" stroke="#e0b048" stroke-opacity="0.5" stroke-width="2" fill="none"/><path d="M-35.9,2.9 Q0,7.6 35.9,2.9" stroke="#e0b048" stroke-opacity="0.5" stroke-width="2" fill="none"/><path d="M-35.9,5.8 Q0,15.1 35.9,5.8" stroke="#e0b048" stroke-opacity="0.5" stroke-width="2" fill="none"/><ellipse rx="40.8" ry="18.8" fill="url(#podg)"/></g>
<g transform="translate(1767.7,156.6) rotate(70)"><ellipse rx="36" ry="18.8" fill="#b8282e" stroke="#160808" stroke-width="1.4"/><path d="M-31.7,-5.8 Q0,-15.1 31.7,-5.8" stroke="#e0b048" stroke-opacity="0.5" stroke-width="2" fill="none"/><path d="M-31.7,-2.9 Q0,-7.6 31.7,-2.9" stroke="#e0b048" stroke-opacity="0.5" stroke-width="2" fill="none"/><path d="M-31.7,0 Q0,0 31.7,0" stroke="#e0b048" stroke-opacity="0.5" stroke-width="2" fill="none"/><path d="M-31.7,2.9 Q0,7.6 31.7,2.9" stroke="#e0b048" stroke-opacity="0.5" stroke-width="2" fill="none"/><path d="M-31.7,5.8 Q0,15.1 31.7,5.8" stroke="#e0b048" stroke-opacity="0.5" stroke-width="2" fill="none"/><ellipse rx="36" ry="18.8" fill="url(#podg)"/></g>
<g transform="translate(1818,181.8) rotate(0)"><ellipse rx="45.6" ry="21.2" fill="#b8282e" stroke="#160808" stroke-width="1.4"/><path d="M-40.1,-6.6 Q0,-17.1 40.1,-6.6" stroke="#e0b048" stroke-opacity="0.5" stroke-width="2" fill="none"/><path d="M-40.1,-3.3 Q0,-8.6 40.1,-3.3" stroke="#e0b048" stroke-opacity="0.5" stroke-width="2" fill="none"/><path d="M-40.1,0 Q0,0 40.1,0" stroke="#e0b048" stroke-opacity="0.5" stroke-width="2" fill="none"/><path d="M-40.1,3.3 Q0,8.6 40.1,3.3" stroke="#e0b048" stroke-opacity="0.5" stroke-width="2" fill="none"/><path d="M-40.1,6.6 Q0,17.1 40.1,6.6" stroke="#e0b048" stroke-opacity="0.5" stroke-width="2" fill="none"/><ellipse rx="45.6" ry="21.2" fill="url(#podg)"/></g>
<g transform="translate(1563,161.6) rotate(40)"><ellipse rx="26.4" ry="16.2" fill="#7a402e" stroke="#160808" stroke-width="1.4"/><path d="M-23.2,-5 Q0,-13.1 23.2,-5" stroke="#e0b048" stroke-opacity="0.5" stroke-width="2" fill="none"/><path d="M-23.2,-2.5 Q0,-6.5 23.2,-2.5" stroke="#e0b048" stroke-opacity="0.5" stroke-width="2" fill="none"/><path d="M-23.2,0 Q0,0 23.2,0" stroke="#e0b048" stroke-opacity="0.5" stroke-width="2" fill="none"/><path d="M-23.2,2.5 Q0,6.5 23.2,2.5" stroke="#e0b048" stroke-opacity="0.5" stroke-width="2" fill="none"/><path d="M-23.2,5 Q0,13.1 23.2,5" stroke="#e0b048" stroke-opacity="0.5" stroke-width="2" fill="none"/><ellipse rx="26.4" ry="16.2" fill="url(#podg)"/></g>
<g transform="translate(1568,181.8) rotate(20)"><ellipse rx="28.8" ry="16.2" fill="#7a402e" stroke="#160808" stroke-width="1.4"/><path d="M-25.3,-5 Q0,-13.1 25.3,-5" stroke="#e0b048" stroke-opacity="0.5" stroke-width="2" fill="none"/><path d="M-25.3,-2.5 Q0,-6.5 25.3,-2.5" stroke="#e0b048" stroke-opacity="0.5" stroke-width="2" fill="none"/><path d="M-25.3,0 Q0,0 25.3,0" stroke="#e0b048" stroke-opacity="0.5" stroke-width="2" fill="none"/><path d="M-25.3,2.5 Q0,6.5 25.3,2.5" stroke="#e0b048" stroke-opacity="0.5" stroke-width="2" fill="none"/><path d="M-25.3,5 Q0,13.1 25.3,5" stroke="#e0b048" stroke-opacity="0.5" stroke-width="2" fill="none"/><ellipse rx="28.8" ry="16.2" fill="url(#podg)"/></g>
<g transform="translate(1656.6,199.5) rotate(-55)"><ellipse rx="36" ry="18.8" fill="#b8282e" stroke="#160808" stroke-width="1.4"/><path d="M-31.7,-5.8 Q0,-15.1 31.7,-5.8" stroke="#e0b048" stroke-opacity="0.5" stroke-width="2" fill="none"/><path d="M-31.7,-2.9 Q0,-7.6 31.7,-2.9" stroke="#e0b048" stroke-opacity="0.5" stroke-width="2" fill="none"/><path d="M-31.7,0 Q0,0 31.7,0" stroke="#e0b048" stroke-opacity="0.5" stroke-width="2" fill="none"/><path d="M-31.7,2.9 Q0,7.6 31.7,2.9" stroke="#e0b048" stroke-opacity="0.5" stroke-width="2" fill="none"/><path d="M-31.7,5.8 Q0,15.1 31.7,5.8" stroke="#e0b048" stroke-opacity="0.5" stroke-width="2" fill="none"/><ellipse rx="36" ry="18.8" fill="url(#podg)"/></g>
<g transform="translate(1613.6,199.5) rotate(-15)"><ellipse rx="31.2" ry="16.2" fill="#d0aa2a" stroke="#160808" stroke-width="1.4"/><path d="M-27.5,-5 Q0,-13.1 27.5,-5" stroke="#b83838" stroke-opacity="0.5" stroke-width="2" fill="none"/><path d="M-27.5,-2.5 Q0,-6.5 27.5,-2.5" stroke="#b83838" stroke-opacity="0.5" stroke-width="2" fill="none"/><path d="M-27.5,0 Q0,0 27.5,0" stroke="#b83838" stroke-opacity="0.5" stroke-width="2" fill="none"/><path d="M-27.5,2.5 Q0,6.5 27.5,2.5" stroke="#b83838" stroke-opacity="0.5" stroke-width="2" fill="none"/><path d="M-27.5,5 Q0,13.1 27.5,5" stroke="#b83838" stroke-opacity="0.5" stroke-width="2" fill="none"/><ellipse rx="31.2" ry="16.2" fill="url(#podg)"/></g>
<g transform="translate(1697,186.9) rotate(-50)"><ellipse rx="33.6" ry="17.5" fill="#d0aa2a" stroke="#160808" stroke-width="1.4"/><path d="M-29.6,-5.4 Q0,-14.1 29.6,-5.4" stroke="#b83838" stroke-opacity="0.5" stroke-width="2" fill="none"/><path d="M-29.6,-2.7 Q0,-7.1 29.6,-2.7" stroke="#b83838" stroke-opacity="0.5" stroke-width="2" fill="none"/><path d="M-29.6,0 Q0,0 29.6,0" stroke="#b83838" stroke-opacity="0.5" stroke-width="2" fill="none"/><path d="M-29.6,2.7 Q0,7.1 29.6,2.7" stroke="#b83838" stroke-opacity="0.5" stroke-width="2" fill="none"/><path d="M-29.6,5.4 Q0,14.1 29.6,5.4" stroke="#b83838" stroke-opacity="0.5" stroke-width="2" fill="none"/><ellipse rx="33.6" ry="17.5" fill="url(#podg)"/></g>
<g transform="translate(1727,189.4) rotate(-60)"><ellipse rx="38.4" ry="18.8" fill="#a89a64" stroke="#160808" stroke-width="1.4"/><path d="M-33.8,-5.8 Q0,-15.1 33.8,-5.8" stroke="#b83838" stroke-opacity="0.5" stroke-width="2" fill="none"/><path d="M-33.8,-2.9 Q0,-7.6 33.8,-2.9" stroke="#b83838" stroke-opacity="0.5" stroke-width="2" fill="none"/><path d="M-33.8,0 Q0,0 33.8,0" stroke="#b83838" stroke-opacity="0.5" stroke-width="2" fill="none"/><path d="M-33.8,2.9 Q0,7.6 33.8,2.9" stroke="#b83838" stroke-opacity="0.5" stroke-width="2" fill="none"/><path d="M-33.8,5.8 Q0,15.1 33.8,5.8" stroke="#b83838" stroke-opacity="0.5" stroke-width="2" fill="none"/><ellipse rx="38.4" ry="18.8" fill="url(#podg)"/></g>
<g transform="translate(1828,222.2) rotate(5)"><ellipse rx="45.6" ry="21.2" fill="#bc4456" stroke="#160808" stroke-width="1.4"/><path d="M-40.1,-6.6 Q0,-17.1 40.1,-6.6" stroke="#e0b048" stroke-opacity="0.5" stroke-width="2" fill="none"/><path d="M-40.1,-3.3 Q0,-8.6 40.1,-3.3" stroke="#e0b048" stroke-opacity="0.5" stroke-width="2" fill="none"/><path d="M-40.1,0 Q0,0 40.1,0" stroke="#e0b048" stroke-opacity="0.5" stroke-width="2" fill="none"/><path d="M-40.1,3.3 Q0,8.6 40.1,3.3" stroke="#e0b048" stroke-opacity="0.5" stroke-width="2" fill="none"/><path d="M-40.1,6.6 Q0,17.1 40.1,6.6" stroke="#e0b048" stroke-opacity="0.5" stroke-width="2" fill="none"/><ellipse rx="45.6" ry="21.2" fill="url(#podg)"/></g>
<g transform="translate(1616,227.3) rotate(-20)"><ellipse rx="31.2" ry="17.5" fill="#b8282e" stroke="#160808" stroke-width="1.4"/><path d="M-27.5,-5.4 Q0,-14.1 27.5,-5.4" stroke="#e0b048" stroke-opacity="0.5" stroke-width="2" fill="none"/><path d="M-27.5,-2.7 Q0,-7.1 27.5,-2.7" stroke="#e0b048" stroke-opacity="0.5" stroke-width="2" fill="none"/><path d="M-27.5,0 Q0,0 27.5,0" stroke="#e0b048" stroke-opacity="0.5" stroke-width="2" fill="none"/><path d="M-27.5,2.7 Q0,7.1 27.5,2.7" stroke="#e0b048" stroke-opacity="0.5" stroke-width="2" fill="none"/><path d="M-27.5,5.4 Q0,14.1 27.5,5.4" stroke="#e0b048" stroke-opacity="0.5" stroke-width="2" fill="none"/><ellipse rx="31.2" ry="17.5" fill="url(#podg)"/></g>
<g transform="translate(1674,237.4) rotate(-30)"><ellipse rx="36" ry="18.8" fill="#c45a3a" stroke="#160808" stroke-width="1.4"/><path d="M-31.7,-5.8 Q0,-15.1 31.7,-5.8" stroke="#b83838" stroke-opacity="0.5" stroke-width="2" fill="none"/><path d="M-31.7,-2.9 Q0,-7.6 31.7,-2.9" stroke="#b83838" stroke-opacity="0.5" stroke-width="2" fill="none"/><path d="M-31.7,0 Q0,0 31.7,0" stroke="#b83838" stroke-opacity="0.5" stroke-width="2" fill="none"/><path d="M-31.7,2.9 Q0,7.6 31.7,2.9" stroke="#b83838" stroke-opacity="0.5" stroke-width="2" fill="none"/><path d="M-31.7,5.8 Q0,15.1 31.7,5.8" stroke="#b83838" stroke-opacity="0.5" stroke-width="2" fill="none"/><ellipse rx="36" ry="18.8" fill="url(#podg)"/></g>
<g transform="translate(1722,247.5) rotate(80)"><ellipse rx="38.4" ry="18.8" fill="#d0aa2a" stroke="#160808" stroke-width="1.4"/><path d="M-33.8,-5.8 Q0,-15.1 33.8,-5.8" stroke="#b83838" stroke-opacity="0.5" stroke-width="2" fill="none"/><path d="M-33.8,-2.9 Q0,-7.6 33.8,-2.9" stroke="#b83838" stroke-opacity="0.5" stroke-width="2" fill="none"/><path d="M-33.8,0 Q0,0 33.8,0" stroke="#b83838" stroke-opacity="0.5" stroke-width="2" fill="none"/><path d="M-33.8,2.9 Q0,7.6 33.8,2.9" stroke="#b83838" stroke-opacity="0.5" stroke-width="2" fill="none"/><path d="M-33.8,5.8 Q0,15.1 33.8,5.8" stroke="#b83838" stroke-opacity="0.5" stroke-width="2" fill="none"/><ellipse rx="38.4" ry="18.8" fill="url(#podg)"/></g>
<g transform="translate(1765,234.8) rotate(60)"><ellipse rx="36" ry="18.8" fill="#7a402e" stroke="#160808" stroke-width="1.4"/><path d="M-31.7,-5.8 Q0,-15.1 31.7,-5.8" stroke="#e0b048" stroke-opacity="0.5" stroke-width="2" fill="none"/><path d="M-31.7,-2.9 Q0,-7.6 31.7,-2.9" stroke="#e0b048" stroke-opacity="0.5" stroke-width="2" fill="none"/><path d="M-31.7,0 Q0,0 31.7,0" stroke="#e0b048" stroke-opacity="0.5" stroke-width="2" fill="none"/><path d="M-31.7,2.9 Q0,7.6 31.7,2.9" stroke="#e0b048" stroke-opacity="0.5" stroke-width="2" fill="none"/><path d="M-31.7,5.8 Q0,15.1 31.7,5.8" stroke="#e0b048" stroke-opacity="0.5" stroke-width="2" fill="none"/><ellipse rx="36" ry="18.8" fill="url(#podg)"/></g>
<g transform="translate(1823,255) rotate(0)"><ellipse rx="38.4" ry="18.8" fill="#7a402e" stroke="#160808" stroke-width="1.4"/><path d="M-33.8,-5.8 Q0,-15.1 33.8,-5.8" stroke="#e0b048" stroke-opacity="0.5" stroke-width="2" fill="none"/><path d="M-33.8,-2.9 Q0,-7.6 33.8,-2.9" stroke="#e0b048" stroke-opacity="0.5" stroke-width="2" fill="none"/><path d="M-33.8,0 Q0,0 33.8,0" stroke="#e0b048" stroke-opacity="0.5" stroke-width="2" fill="none"/><path d="M-33.8,2.9 Q0,7.6 33.8,2.9" stroke="#e0b048" stroke-opacity="0.5" stroke-width="2" fill="none"/><path d="M-33.8,5.8 Q0,15.1 33.8,5.8" stroke="#e0b048" stroke-opacity="0.5" stroke-width="2" fill="none"/><ellipse rx="38.4" ry="18.8" fill="url(#podg)"/></g>
<g transform="translate(1886,240) rotate(20)"><ellipse rx="36" ry="18.8" fill="#c03a2c" stroke="#160808" stroke-width="1.4"/><path d="M-31.7,-5.8 Q0,-15.1 31.7,-5.8" stroke="#e0b048" stroke-opacity="0.5" stroke-width="2" fill="none"/><path d="M-31.7,-2.9 Q0,-7.6 31.7,-2.9" stroke="#e0b048" stroke-opacity="0.5" stroke-width="2" fill="none"/><path d="M-31.7,0 Q0,0 31.7,0" stroke="#e0b048" stroke-opacity="0.5" stroke-width="2" fill="none"/><path d="M-31.7,2.9 Q0,7.6 31.7,2.9" stroke="#e0b048" stroke-opacity="0.5" stroke-width="2" fill="none"/><path d="M-31.7,5.8 Q0,15.1 31.7,5.8" stroke="#e0b048" stroke-opacity="0.5" stroke-width="2" fill="none"/><ellipse rx="36" ry="18.8" fill="url(#podg)"/></g>
<g transform="translate(1904,207) rotate(30)"><ellipse rx="31.2" ry="17.5" fill="#c8502a" stroke="#160808" stroke-width="1.4"/><path d="M-27.5,-5.4 Q0,-14.1 27.5,-5.4" stroke="#e0b048" stroke-opacity="0.5" stroke-width="2" fill="none"/><path d="M-27.5,-2.7 Q0,-7.1 27.5,-2.7" stroke="#e0b048" stroke-opacity="0.5" stroke-width="2" fill="none"/><path d="M-27.5,0 Q0,0 27.5,0" stroke="#e0b048" stroke-opacity="0.5" stroke-width="2" fill="none"/><path d="M-27.5,2.7 Q0,7.1 27.5,2.7" stroke="#e0b048" stroke-opacity="0.5" stroke-width="2" fill="none"/><path d="M-27.5,5.4 Q0,14.1 27.5,5.4" stroke="#e0b048" stroke-opacity="0.5" stroke-width="2" fill="none"/><ellipse rx="31.2" ry="17.5" fill="url(#podg)"/></g>
<g transform="translate(1868.7,262.6) rotate(10)"><ellipse rx="33.6" ry="17.5" fill="#b8282e" stroke="#160808" stroke-width="1.4"/><path d="M-29.6,-5.4 Q0,-14.1 29.6,-5.4" stroke="#e0b048" stroke-opacity="0.5" stroke-width="2" fill="none"/><path d="M-29.6,-2.7 Q0,-7.1 29.6,-2.7" stroke="#e0b048" stroke-opacity="0.5" stroke-width="2" fill="none"/><path d="M-29.6,0 Q0,0 29.6,0" stroke="#e0b048" stroke-opacity="0.5" stroke-width="2" fill="none"/><path d="M-29.6,2.7 Q0,7.1 29.6,2.7" stroke="#e0b048" stroke-opacity="0.5" stroke-width="2" fill="none"/><path d="M-29.6,5.4 Q0,14.1 29.6,5.4" stroke="#e0b048" stroke-opacity="0.5" stroke-width="2" fill="none"/><ellipse rx="33.6" ry="17.5" fill="url(#podg)"/></g>
<g transform="translate(1639,260) rotate(-20)"><ellipse rx="26.4" ry="15" fill="#b8282e" stroke="#160808" stroke-width="1.4"/><path d="M-23.2,-4.7 Q0,-12.1 23.2,-4.7" stroke="#e0b048" stroke-opacity="0.5" stroke-width="2" fill="none"/><path d="M-23.2,-2.3 Q0,-6 23.2,-2.3" stroke="#e0b048" stroke-opacity="0.5" stroke-width="2" fill="none"/><path d="M-23.2,0 Q0,0 23.2,0" stroke="#e0b048" stroke-opacity="0.5" stroke-width="2" fill="none"/><path d="M-23.2,2.3 Q0,6 23.2,2.3" stroke="#e0b048" stroke-opacity="0.5" stroke-width="2" fill="none"/><path d="M-23.2,4.7 Q0,12.1 23.2,4.7" stroke="#e0b048" stroke-opacity="0.5" stroke-width="2" fill="none"/><ellipse rx="26.4" ry="15" fill="url(#podg)"/></g>
<g transform="translate(1911.6,257.6) rotate(0)"><ellipse rx="28.8" ry="16.2" fill="#c8502a" stroke="#160808" stroke-width="1.4"/><path d="M-25.3,-5 Q0,-13.1 25.3,-5" stroke="#e0b048" stroke-opacity="0.5" stroke-width="2" fill="none"/><path d="M-25.3,-2.5 Q0,-6.5 25.3,-2.5" stroke="#e0b048" stroke-opacity="0.5" stroke-width="2" fill="none"/><path d="M-25.3,0 Q0,0 25.3,0" stroke="#e0b048" stroke-opacity="0.5" stroke-width="2" fill="none"/><path d="M-25.3,2.5 Q0,6.5 25.3,2.5" stroke="#e0b048" stroke-opacity="0.5" stroke-width="2" fill="none"/><path d="M-25.3,5 Q0,13.1 25.3,5" stroke="#e0b048" stroke-opacity="0.5" stroke-width="2" fill="none"/><ellipse rx="28.8" ry="16.2" fill="url(#podg)"/></g>
</g><rect x="1520" y="0" width="400" height="270" fill="#000" opacity="0.26"/>
</g></g>
<text x="102.5" y="108" font-family="Liberation Serif" font-size="81" fill="#ffffff" stroke="#ffffff" stroke-width="1.1" textLength="256" lengthAdjust="spacingAndGlyphs">StoneX</text>
<text x="364" y="65.5" text-anchor="middle" font-family="Liberation Sans" font-size="9" fill="#c8ccd2">®</text>
<text x="96" y="205.8" font-family="Liberation Sans" font-size="83" fill="#ffffff" textLength="1162" lengthAdjust="spacingAndGlyphs">Cocoa Certified Stocks – ICE US</text>
<rect x="683.5" y="570" width="680" height="265.7" fill="#f2f2f2"/>
<rect x="345" y="865.8" width="1357.5" height="2" fill="#d9d9d9"/>
<rect x="345" y="781.2" width="1357.5" height="2" fill="#d9d9d9"/>
<rect x="345" y="696.7" width="1357.5" height="2" fill="#d9d9d9"/>
<rect x="345" y="612.1" width="1357.5" height="2" fill="#d9d9d9"/>
<rect x="345" y="527.5" width="1357.5" height="2" fill="#d9d9d9"/>
<rect x="345" y="442.9" width="1357.5" height="2" fill="#d9d9d9"/>
<rect x="346.2" y="556.9" width="2" height="394.5" fill="#4472c4"/>
<rect x="372.7" y="561.2" width="2" height="390.2" fill="#4472c4"/>
<rect x="399.2" y="566.7" width="2" height="384.7" fill="#4472c4"/>
<rect x="425.7" y="569.9" width="2" height="381.5" fill="#4472c4"/>
<rect x="452.2" y="574.8" width="2" height="376.6" fill="#4472c4"/>
<rect x="478.7" y="579.6" width="2" height="371.8" fill="#4472c4"/>
<rect x="505.2" y="586.1" width="2" height="365.3" fill="#4472c4"/>
<rect x="531.7" y="591" width="2" height="360.4" fill="#4472c4"/>
<rect x="558.2" y="594.3" width="2" height="357.1" fill="#4472c4"/>
<rect x="584.7" y="600.8" width="2" height="350.6" fill="#4472c4"/>
<rect x="611.2" y="608.9" width="2" height="342.5" fill="#4472c4"/>
<rect x="637.7" y="617.5" width="2" height="333.9" fill="#4472c4"/>
<rect x="664.2" y="620.2" width="2" height="331.2" fill="#4472c4"/>
<rect x="690.7" y="619.2" width="2" height="332.2" fill="#4472c4"/>
<rect x="717.2" y="614.8" width="2" height="336.6" fill="#4472c4"/>
<rect x="743.7" y="614.3" width="2" height="337.1" fill="#4472c4"/>
<rect x="770.2" y="614.3" width="2" height="337.1" fill="#4472c4"/>
<rect x="796.7" y="613.7" width="2" height="337.7" fill="#4472c4"/>
<rect x="823.2" y="602.9" width="2" height="348.5" fill="#4472c4"/>
<rect x="849.7" y="595.3" width="2" height="356.1" fill="#4472c4"/>
<rect x="876.2" y="594.3" width="2" height="357.1" fill="#4472c4"/>
<rect x="902.7" y="589.4" width="2" height="362" fill="#4472c4"/>
<rect x="929.2" y="591.6" width="2" height="359.8" fill="#4472c4"/>
<rect x="955.7" y="584" width="2" height="367.4" fill="#4472c4"/>
<rect x="982.2" y="577.5" width="2" height="373.9" fill="#4472c4"/>
<rect x="1008.7" y="574.3" width="2" height="377.1" fill="#4472c4"/>
<rect x="1035.2" y="569.5" width="2" height="381.9" fill="#4472c4"/>
<rect x="1061.7" y="567.2" width="2" height="384.2" fill="#4472c4"/>
<rect x="1088.2" y="563.5" width="2" height="387.9" fill="#4472c4"/>
<rect x="1114.7" y="555.3" width="2" height="396.1" fill="#4472c4"/>
<rect x="1141.2" y="552.5" width="2" height="398.9" fill="#4472c4"/>
<rect x="1167.7" y="545.7" width="2" height="405.7" fill="#4472c4"/>
<rect x="1194.2" y="545.2" width="2" height="406.2" fill="#4472c4"/>
<rect x="1220.7" y="541.6" width="2" height="409.8" fill="#4472c4"/>
<rect x="1247.2" y="538.4" width="2" height="413" fill="#4472c4"/>
<rect x="1273.7" y="539.7" width="2" height="411.7" fill="#4472c4"/>
<rect x="1300.2" y="538.4" width="2" height="413" fill="#4472c4"/>
<rect x="1326.7" y="540.2" width="2" height="411.2" fill="#4472c4"/>
<rect x="1353.2" y="541.1" width="2" height="410.3" fill="#4472c4"/>
<rect x="1379.7" y="542" width="2" height="409.4" fill="#4472c4"/>
<rect x="1406.2" y="544.3" width="2" height="407.1" fill="#4472c4"/>
<rect x="1432.7" y="566.3" width="2" height="385.1" fill="#4472c4"/>
<rect x="1459.2" y="549.8" width="2" height="401.6" fill="#4472c4"/>
<rect x="1485.7" y="553" width="2" height="398.4" fill="#4472c4"/>
<rect x="1512.2" y="555.7" width="2" height="395.7" fill="#4472c4"/>
<rect x="1538.7" y="559" width="2" height="392.4" fill="#4472c4"/>
<rect x="1565.2" y="563.5" width="2" height="387.9" fill="#4472c4"/>
<rect x="1591.7" y="567.2" width="2" height="384.2" fill="#4472c4"/>
<rect x="1618.2" y="570.4" width="2" height="381" fill="#4472c4"/>
<rect x="1644.7" y="573.6" width="2" height="377.8" fill="#4472c4"/>
<rect x="1671.2" y="577.7" width="2" height="373.7" fill="#4472c4"/>
<rect x="1697.7" y="580.4" width="2" height="371" fill="#4472c4"/>
<rect x="345" y="950.4" width="1357.5" height="2" fill="#d9d9d9"/>
<rect x="344" y="951.4" width="2" height="8" fill="#d9d9d9"/>
<rect x="457.8" y="951.4" width="2" height="8" fill="#d9d9d9"/>
<rect x="575.2" y="951.4" width="2" height="8" fill="#d9d9d9"/>
<rect x="688.8" y="951.4" width="2" height="8" fill="#d9d9d9"/>
<rect x="806.2" y="951.4" width="2" height="8" fill="#d9d9d9"/>
<rect x="923.7" y="951.4" width="2" height="8" fill="#d9d9d9"/>
<rect x="1030.3" y="951.4" width="2" height="8" fill="#d9d9d9"/>
<rect x="1147.5" y="951.4" width="2" height="8" fill="#d9d9d9"/>
<rect x="1260.9" y="951.4" width="2" height="8" fill="#d9d9d9"/>
<rect x="1378.3" y="951.4" width="2" height="8" fill="#d9d9d9"/>
<rect x="1492.6" y="951.4" width="2" height="8" fill="#d9d9d9"/>
<rect x="1610" y="951.4" width="2" height="8" fill="#d9d9d9"/>
<defs><clipPath id="pa1"><rect x="345" y="430" width="1360" height="530"/></clipPath><clipPath id="pa2"><rect x="389.4" y="1600" width="1309" height="490"/></clipPath></defs>
<g clip-path="url(#pa1)"><polyline points="346.8,764.5 373.3,771.3 399.9,778.5 426.4,781.4 452.9,788.1 479.5,797.7 506,802.5 532.5,806.9 559,811.7 585.6,816.5 612.1,818.9 638.6,825.4 665.2,830.9 691.7,834.3 718.2,835.7 744.8,836.3 771.3,840.1 797.8,842.4 824.3,844.6 850.9,834.9 877.4,833 903.9,834 930.5,830.7 957,828.5 983.5,825.8 1010,809.2 1036.6,800.3 1063.1,798.6 1089.6,795.3 1116.2,792.6 1142.7,791.7" fill="none" stroke="#ed7d31" stroke-width="7.3" stroke-linejoin="round" stroke-linecap="round"/></g>
<text x="319" y="959.6" text-anchor="end" font-family="Liberation Sans" font-style="italic" font-size="23" fill="#595959">0</text>
<text x="210" y="875" font-family="Liberation Sans" font-style="italic" font-size="23" fill="#595959" textLength="109" lengthAdjust="spacingAndGlyphs">1,000,000</text>
<text x="210" y="790.4" font-family="Liberation Sans" font-style="italic" font-size="23" fill="#595959" textLength="109" lengthAdjust="spacingAndGlyphs">2,000,000</text>
<text x="210" y="705.9" font-family="Liberation Sans" font-style="italic" font-size="23" fill="#595959" textLength="109" lengthAdjust="spacingAndGlyphs">3,000,000</text>
<text x="210" y="621.3" font-family="Liberation Sans" font-style="italic" font-size="23" fill="#595959" textLength="109" lengthAdjust="spacingAndGlyphs">4,000,000</text>
<text x="210" y="536.7" font-family="Liberation Sans" font-style="italic" font-size="23" fill="#595959" textLength="109" lengthAdjust="spacingAndGlyphs">5,000,000</text>
<text x="210" y="452.1" font-family="Liberation Sans" font-style="italic" font-size="23" fill="#595959" textLength="109" lengthAdjust="spacingAndGlyphs">6,000,000</text>
<text transform="translate(204.2,698.5) rotate(-90)" text-anchor="middle" font-family="Liberation Sans" font-size="25" fill="#595959" textLength="128" lengthAdjust="spacingAndGlyphs">60-kg Bags</text>
<text transform="translate(354,985.9) rotate(-45)" text-anchor="end" font-family="Liberation Sans" font-size="26" fill="#595959" textLength="115.6" lengthAdjust="spacingAndGlyphs">9/24/2024</text>
<text transform="translate(467.8,985.9) rotate(-45)" text-anchor="end" font-family="Liberation Sans" font-size="26" fill="#595959" textLength="129.2" lengthAdjust="spacingAndGlyphs">10/24/2024</text>
<text transform="translate(585.2,985.9) rotate(-45)" text-anchor="end" font-family="Liberation Sans" font-size="26" fill="#595959" textLength="129.2" lengthAdjust="spacingAndGlyphs">11/24/2024</text>
<text transform="translate(698.8,985.9) rotate(-45)" text-anchor="end" font-family="Liberation Sans" font-size="26" fill="#595959" textLength="129.2" lengthAdjust="spacingAndGlyphs">12/24/2024</text>
<text transform="translate(816.2,985.9) rotate(-45)" text-anchor="end" font-family="Liberation Sans" font-size="26" fill="#595959" textLength="115.6" lengthAdjust="spacingAndGlyphs">1/24/2025</text>
<text transform="translate(933.7,985.9) rotate(-45)" text-anchor="end" font-family="Liberation Sans" font-size="26" fill="#595959" textLength="115.6" lengthAdjust="spacingAndGlyphs">2/24/2025</text>
<text transform="translate(1040.3,985.9) rotate(-45)" text-anchor="end" font-family="Liberation Sans" font-size="26" fill="#595959" textLength="115.6" lengthAdjust="spacingAndGlyphs">3/24/2025</text>
<text transform="translate(1157.5,985.9) rotate(-45)" text-anchor="end" font-family="Liberation Sans" font-size="26" fill="#595959" textLength="115.6" lengthAdjust="spacingAndGlyphs">4/24/2025</text>
<text transform="translate(1270.9,985.9) rotate(-45)" text-anchor="end" font-family="Liberation Sans" font-size="26" fill="#595959" textLength="115.6" lengthAdjust="spacingAndGlyphs">5/24/2025</text>
<text transform="translate(1388.3,985.9) rotate(-45)" text-anchor="end" font-family="Liberation Sans" font-size="26" fill="#595959" textLength="115.6" lengthAdjust="spacingAndGlyphs">6/24/2025</text>
<text transform="translate(1502.6,985.9) rotate(-45)" text-anchor="end" font-family="Liberation Sans" font-size="26" fill="#595959" textLength="115.6" lengthAdjust="spacingAndGlyphs">7/24/2025</text>
<text transform="translate(1620,985.9) rotate(-45)" text-anchor="end" font-family="Liberation Sans" font-size="26" fill="#595959" textLength="115.6" lengthAdjust="spacingAndGlyphs">8/24/2025</text>
<text x="787" y="406" font-family="Liberation Sans" font-weight="bold" font-size="51" fill="#595959" textLength="350" lengthAdjust="spacingAndGlyphs">Certified Stocks</text>
<rect x="825.5" y="1075" width="59.5" height="16.4" fill="#4472c4"/>
<text x="890" y="1091.4" font-family="Liberation Sans" font-size="23" fill="#595959" textLength="89" lengthAdjust="spacingAndGlyphs">5 Yr Avg</text>
<line x1="999.5" y1="1083.2" x2="1058" y2="1083.2" stroke="#ed7d31" stroke-width="6.8" stroke-linecap="round"/>
<text x="1065" y="1091.4" font-family="Liberation Sans" font-size="23" fill="#595959" textLength="63.5" lengthAdjust="spacingAndGlyphs">24/25</text>
<text x="243.5" y="1229" font-family="Liberation Sans" font-weight="bold" font-size="25.5" fill="#000000" textLength="58" lengthAdjust="spacingAndGlyphs" text-anchor="start">Date</text>
<text x="414" y="1229" font-family="Liberation Sans" font-weight="bold" font-size="25.5" fill="#000000" textLength="136" lengthAdjust="spacingAndGlyphs" text-anchor="start">Cert. Stock</text>
<text x="836.5" y="1229" font-family="Liberation Sans" font-weight="bold" font-size="25.5" fill="#000000" textLength="59.5" lengthAdjust="spacingAndGlyphs" text-anchor="start">Date</text>
<text x="1000.5" y="1229" font-family="Liberation Sans" font-weight="bold" font-size="25.5" fill="#000000" textLength="136" lengthAdjust="spacingAndGlyphs" text-anchor="start">Cert. Stock</text>
<text x="207.5" y="1301.1" font-family="Liberation Sans" font-weight="normal" font-size="25.5" fill="#000000" textLength="129.5" lengthAdjust="spacingAndGlyphs" text-anchor="start">4/21/2025</text>
<text x="435.5" y="1301.1" font-family="Liberation Sans" font-weight="normal" font-size="25.5" fill="#000000" textLength="120.5" lengthAdjust="spacingAndGlyphs" text-anchor="start">1,905,025</text>
<text x="800.5" y="1301.1" font-family="Liberation Sans" font-weight="normal" font-size="25.5" fill="#000000" textLength="130.5" lengthAdjust="spacingAndGlyphs" text-anchor="start">4/15/2025</text>
<text x="1018" y="1301.1" font-family="Liberation Sans" font-weight="normal" font-size="25.5" fill="#000000" textLength="121.5" lengthAdjust="spacingAndGlyphs" text-anchor="start">1,882,803</text>
<text x="207.5" y="1372.8" font-family="Liberation Sans" font-weight="normal" font-size="25.5" fill="#000000" textLength="129.5" lengthAdjust="spacingAndGlyphs" text-anchor="start">4/17/2025</text>
<text x="435.5" y="1372.8" font-family="Liberation Sans" font-weight="normal" font-size="25.5" fill="#000000" textLength="120.5" lengthAdjust="spacingAndGlyphs" text-anchor="start">1,891,200</text>
<text x="800.5" y="1372.8" font-family="Liberation Sans" font-weight="normal" font-size="25.5" fill="#000000" textLength="130.5" lengthAdjust="spacingAndGlyphs" text-anchor="start">4/14/2025</text>
<text x="1018" y="1372.8" font-family="Liberation Sans" font-weight="normal" font-size="25.5" fill="#000000" textLength="121.5" lengthAdjust="spacingAndGlyphs" text-anchor="start">1,883,691</text>
<text x="207.5" y="1442.6" font-family="Liberation Sans" font-weight="normal" font-size="25.5" fill="#000000" textLength="129.5" lengthAdjust="spacingAndGlyphs" text-anchor="start">4/16/2025</text>
<text x="435.5" y="1442.6" font-family="Liberation Sans" font-weight="normal" font-size="25.5" fill="#000000" textLength="120.5" lengthAdjust="spacingAndGlyphs" text-anchor="start">1,883,819</text>
<text x="800.5" y="1442.6" font-family="Liberation Sans" font-weight="normal" font-size="25.5" fill="#000000" textLength="130.5" lengthAdjust="spacingAndGlyphs" text-anchor="start">4/11/2025</text>
<text x="1018" y="1442.6" font-family="Liberation Sans" font-weight="normal" font-size="25.5" fill="#000000" textLength="121.5" lengthAdjust="spacingAndGlyphs" text-anchor="start">1,881,638</text>
<text x="1376" y="1318.6" font-family="Liberation Sans" font-weight="normal" font-size="25.5" fill="#000000" textLength="188" lengthAdjust="spacingAndGlyphs" text-anchor="start">Weekly Change</text>
<text x="1647" y="1318.6" font-family="Liberation Sans" font-weight="bold" font-size="25.5" fill="#00b050" textLength="82.5" lengthAdjust="spacingAndGlyphs" text-anchor="start">23,387</text>
<rect x="715.8" y="1723.6" width="654.7" height="253.9" fill="#f2f2f2"/>
<rect x="389.4" y="2006.3" width="1308.6" height="2" fill="#d9d9d9"/>
<rect x="389.4" y="1928" width="1308.6" height="2" fill="#d9d9d9"/>
<rect x="389.4" y="1849.7" width="1308.6" height="2" fill="#d9d9d9"/>
<rect x="389.4" y="1771.4" width="1308.6" height="2" fill="#d9d9d9"/>
<rect x="389.4" y="1693.1" width="1308.6" height="2" fill="#d9d9d9"/>
<rect x="389.4" y="1614.8" width="1308.6" height="2" fill="#d9d9d9"/>
<rect x="389.4" y="2084.6" width="1308.6" height="2" fill="#d9d9d9"/>
<rect x="388.5" y="2085.6" width="2" height="7" fill="#d9d9d9"/>
<rect x="498.5" y="2085.6" width="2" height="7" fill="#d9d9d9"/>
<rect x="611.9" y="2085.6" width="2" height="7" fill="#d9d9d9"/>
<rect x="721" y="2085.6" width="2" height="7" fill="#d9d9d9"/>
<rect x="834.4" y="2085.6" width="2" height="7" fill="#d9d9d9"/>
<rect x="947.8" y="2085.6" width="2" height="7" fill="#d9d9d9"/>
<rect x="1050" y="2085.6" width="2" height="7" fill="#d9d9d9"/>
<rect x="1163.4" y="2085.6" width="2" height="7" fill="#d9d9d9"/>
<rect x="1273" y="2085.6" width="2" height="7" fill="#d9d9d9"/>
<rect x="1386.4" y="2085.6" width="2" height="7" fill="#d9d9d9"/>
<rect x="1495.9" y="2085.6" width="2" height="7" fill="#d9d9d9"/>
<rect x="1609" y="2085.6" width="2" height="7" fill="#d9d9d9"/>
<g clip-path="url(#pa2)">
<polyline points="389.4,1798.9 415.1,1801 440.7,1805.9 466.4,1811.1 492,1815.7 517.7,1822.1 543.4,1828.4 569,1835.7 594.7,1841 620.3,1846.3 646,1851.1 671.7,1856.4 697.3,1860.5 723,1848.4 748.6,1842 774.3,1835.7 800,1834.7 825.6,1829.4 851.3,1810.5 876.9,1806.3 902.6,1808.4 928.3,1791.5 953.9,1785.2 979.6,1772.6 1005.2,1762.1 1030.9,1751.5 1056.6,1740.6 1082.2,1728.4 1107.9,1717.9 1133.5,1713 1159.2,1706.3 1184.9,1683.1 1210.5,1681.7 1236.2,1664 1261.8,1650.5 1287.5,1653 1313.2,1644.2 1338.8,1637.9 1364.5,1635.1 1390.1,1632.9 1415.8,1633.6 1441.5,1634.6 1467.1,1629.9 1492.8,1637.9 1518.4,1641.1 1544.1,1645 1569.8,1650.2 1595.4,1648.1 1621.1,1654.1 1646.7,1655.9 1672.4,1650.9 1698.1,1654.8" fill="none" stroke="#4472c4" stroke-width="5.5" stroke-linejoin="round" stroke-linecap="round" stroke-dasharray="46.5 27.5 0.01 27.5" stroke-dashoffset="-2.75"/>
<polyline points="389.4,1657.3 415.1,1659.6 440.7,1662.1 466.4,1665.2 492,1669 517.7,1672.6 543.4,1677.9 569,1682.7 594.7,1685.2 620.3,1688 646,1693.7 671.7,1708 697.3,1716.8 723,1719 748.6,1720.4 774.3,1727.3 800,1728.8 825.6,1731 851.3,1717.9 876.9,1712.6 902.6,1713.7 928.3,1716.8 953.9,1724.5 979.6,1720 1005.2,1718.3 1030.9,1719 1056.6,1717.9 1082.2,1712.6 1107.9,1713.7 1133.5,1693.7 1159.2,1691.6 1184.9,1691 1210.5,1688.4 1236.2,1684.2 1261.8,1673.7 1287.5,1663.1 1313.2,1655.1 1338.8,1655.1 1364.5,1653 1390.1,1649.4 1415.8,1651 1441.5,1636.5 1467.1,1653 1492.8,1651.5 1518.4,1647.6 1544.1,1639 1569.8,1636.8 1595.4,1640 1621.1,1637.9 1646.7,1636.8 1672.4,1642.9 1698.1,1644.4" fill="none" stroke="#ed7d31" stroke-width="5.5" stroke-linejoin="round" stroke-linecap="round" stroke-dasharray="46.5 27.5 0.01 27.5" stroke-dashoffset="-2.75"/>
<polyline points="389.4,1645.3 415.1,1648 440.7,1650.5 466.4,1650.5 492,1652.2 517.7,1653 543.4,1654.1 569,1654.7 594.7,1655.1 620.3,1660 646,1669.5 671.7,1679.4 697.3,1682.5 723,1699 748.6,1681 774.3,1703.1 800,1696.8 825.6,1700 851.3,1696 876.9,1686.3 902.6,1691 928.3,1688.4 953.9,1689.5 979.6,1682 1005.2,1675.8 1030.9,1670.5 1056.6,1666.3 1082.2,1663.1 1107.9,1662.5 1133.5,1659 1159.2,1652.2 1184.9,1641.7 1210.5,1639.6 1236.2,1639 1261.8,1639.6 1287.5,1641.7 1313.2,1645.3 1338.8,1648.4 1364.5,1651.5 1390.1,1652 1415.8,1656.7 1441.5,1660.6 1467.1,1663.9 1492.8,1667.1 1518.4,1671.4 1544.1,1675.8 1569.8,1679 1595.4,1683.4 1621.1,1685.5 1646.7,1689.8 1672.4,1693.5 1698.1,1697" fill="none" stroke="#a5a5a5" stroke-width="5.5" stroke-linejoin="round" stroke-linecap="round" stroke-dasharray="46.5 27.5 0.01 27.5" stroke-dashoffset="-2.75"/>
<polyline points="389.4,1703.1 415.1,1707.3 440.7,1717.9 466.4,1720 492,1725.2 517.7,1730.9 543.4,1735.1 569,1738.9 594.7,1743.8 620.3,1749 646,1752 671.7,1755.8 697.3,1757.4 723,1762.5 748.6,1763.1 774.3,1762 800,1760.4 825.6,1758.9 851.3,1761.6 876.9,1758.9 902.6,1755.3 928.3,1760.4 953.9,1763.1 979.6,1766.3 1005.2,1763.1 1030.9,1763.8 1056.6,1766.7 1082.2,1769.4 1107.9,1770.5 1133.5,1777.9 1159.2,1784.2 1184.9,1789.4 1210.5,1790.5 1236.2,1797.9 1261.8,1803.1 1287.5,1810.5 1313.2,1816.8 1338.8,1825.2 1364.5,1834.3 1390.1,1838.5 1415.8,1837.2 1441.5,1842.9 1467.1,1850.9 1492.8,1858.9 1518.4,1864.5 1544.1,1874.7 1569.8,1884.4 1595.4,1894.2 1621.1,1899.6 1646.7,1907.2 1672.4,1912.6 1698.1,1919.7" fill="none" stroke="#ffc000" stroke-width="5.5" stroke-linejoin="round" stroke-linecap="round" stroke-dasharray="46.5 27.5 0.01 27.5" stroke-dashoffset="-2.75"/>
<polyline points="389.4,1912.5 415.1,1918.8 440.7,1925.4 466.4,1928.1 492,1934.3 517.7,1943.2 543.4,1947.7 569,1951.7 594.7,1956.2 620.3,1960.6 646,1962.8 671.7,1968.9 697.3,1974 723,1977.1 748.6,1978.4 774.3,1979 800,1982.5 825.6,1984.6 851.3,1986.6 876.9,1977.7 902.6,1975.9 928.3,1976.8 953.9,1973.8 979.6,1971.7 1005.2,1969.2 1030.9,1953.9 1056.6,1945.6 1082.2,1944.1 1107.9,1941 1133.5,1938.5 1159.2,1937.7" fill="none" stroke="#38f558" stroke-width="7.5" stroke-linejoin="round" stroke-linecap="round"/>
</g>
<text x="364" y="2093.8" text-anchor="end" font-family="Liberation Sans" font-style="italic" font-size="23" fill="#595959">0</text>
<text x="255" y="2015.5" font-family="Liberation Sans" font-style="italic" font-size="23" fill="#595959" textLength="109" lengthAdjust="spacingAndGlyphs">1,000,000</text>
<text x="255" y="1937.2" font-family="Liberation Sans" font-style="italic" font-size="23" fill="#595959" textLength="109" lengthAdjust="spacingAndGlyphs">2,000,000</text>
<text x="255" y="1858.9" font-family="Liberation Sans" font-style="italic" font-size="23" fill="#595959" textLength="109" lengthAdjust="spacingAndGlyphs">3,000,000</text>
<text x="255" y="1780.6" font-family="Liberation Sans" font-style="italic" font-size="23" fill="#595959" textLength="109" lengthAdjust="spacingAndGlyphs">4,000,000</text>
<text x="255" y="1702.3" font-family="Liberation Sans" font-style="italic" font-size="23" fill="#595959" textLength="109" lengthAdjust="spacingAndGlyphs">5,000,000</text>
<text x="255" y="1624" font-family="Liberation Sans" font-style="italic" font-size="23" fill="#595959" textLength="109" lengthAdjust="spacingAndGlyphs">6,000,000</text>
<text transform="translate(236.9,1850.6) rotate(-90)" text-anchor="middle" font-family="Liberation Sans" font-size="25" fill="#595959" textLength="129" lengthAdjust="spacingAndGlyphs">60-kg Bags</text>
<text transform="translate(396.5,2122) rotate(-45)" text-anchor="end" font-family="Liberation Sans" font-size="26" fill="#595959" textLength="115.6" lengthAdjust="spacingAndGlyphs">9/24/2024</text>
<text transform="translate(506.5,2122) rotate(-45)" text-anchor="end" font-family="Liberation Sans" font-size="26" fill="#595959" textLength="129.2" lengthAdjust="spacingAndGlyphs">10/24/2024</text>
<text transform="translate(619.9,2122) rotate(-45)" text-anchor="end" font-family="Liberation Sans" font-size="26" fill="#595959" textLength="129.2" lengthAdjust="spacingAndGlyphs">11/24/2024</text>
<text transform="translate(729,2122) rotate(-45)" text-anchor="end" font-family="Liberation Sans" font-size="26" fill="#595959" textLength="129.2" lengthAdjust="spacingAndGlyphs">12/24/2024</text>
<text transform="translate(842.4,2122) rotate(-45)" text-anchor="end" font-family="Liberation Sans" font-size="26" fill="#595959" textLength="115.6" lengthAdjust="spacingAndGlyphs">1/24/2025</text>
<text transform="translate(955.8,2122) rotate(-45)" text-anchor="end" font-family="Liberation Sans" font-size="26" fill="#595959" textLength="115.6" lengthAdjust="spacingAndGlyphs">2/24/2025</text>
<text transform="translate(1058,2122) rotate(-45)" text-anchor="end" font-family="Liberation Sans" font-size="26" fill="#595959" textLength="115.6" lengthAdjust="spacingAndGlyphs">3/24/2025</text>
<text transform="translate(1171.4,2122) rotate(-45)" text-anchor="end" font-family="Liberation Sans" font-size="26" fill="#595959" textLength="115.6" lengthAdjust="spacingAndGlyphs">4/24/2025</text>
<text transform="translate(1281,2122) rotate(-45)" text-anchor="end" font-family="Liberation Sans" font-size="26" fill="#595959" textLength="115.6" lengthAdjust="spacingAndGlyphs">5/24/2025</text>
<text transform="translate(1394.4,2122) rotate(-45)" text-anchor="end" font-family="Liberation Sans" font-size="26" fill="#595959" textLength="115.6" lengthAdjust="spacingAndGlyphs">6/24/2025</text>
<text transform="translate(1503.9,2122) rotate(-45)" text-anchor="end" font-family="Liberation Sans" font-size="26" fill="#595959" textLength="115.6" lengthAdjust="spacingAndGlyphs">7/24/2025</text>
<text transform="translate(1617,2122) rotate(-45)" text-anchor="end" font-family="Liberation Sans" font-size="26" fill="#595959" textLength="115.6" lengthAdjust="spacingAndGlyphs">8/24/2025</text>
<text x="831.5" y="1563.8" font-family="Liberation Sans" font-weight="bold" font-size="50" fill="#595959" textLength="260" lengthAdjust="spacingAndGlyphs">Seasonality</text>
<line x1="514.4" y1="2265.6" x2="560.9" y2="2265.6" stroke="#4472c4" stroke-width="5.5" stroke-linecap="round"/>
<circle cx="588.2" cy="2265.6" r="2.75" fill="#4472c4"/>
<text x="599" y="2273.4" font-family="Liberation Sans" font-size="23" fill="#595959" textLength="63.3" lengthAdjust="spacingAndGlyphs">20/21</text>
<line x1="709.1" y1="2265.6" x2="755.6" y2="2265.6" stroke="#ed7d31" stroke-width="5.5" stroke-linecap="round"/>
<circle cx="783" cy="2265.6" r="2.75" fill="#ed7d31"/>
<text x="794.3" y="2273.4" font-family="Liberation Sans" font-size="23" fill="#595959" textLength="62.7" lengthAdjust="spacingAndGlyphs">21/22</text>
<line x1="904.4" y1="2265.6" x2="950.9" y2="2265.6" stroke="#a5a5a5" stroke-width="5.5" stroke-linecap="round"/>
<circle cx="978.2" cy="2265.6" r="2.75" fill="#a5a5a5"/>
<text x="990.4" y="2273.4" font-family="Liberation Sans" font-size="23" fill="#595959" textLength="62.8" lengthAdjust="spacingAndGlyphs">22/23</text>
<line x1="1099.2" y1="2265.6" x2="1145.8" y2="2265.6" stroke="#ffc000" stroke-width="5.5" stroke-linecap="round"/>
<circle cx="1173.1" cy="2265.6" r="2.75" fill="#ffc000"/>
<text x="1185.2" y="2273.4" font-family="Liberation Sans" font-size="23" fill="#595959" textLength="64.1" lengthAdjust="spacingAndGlyphs">23/24</text>
<line x1="1294.5" y1="2265.6" x2="1371.5" y2="2265.6" stroke="#38f558" stroke-width="7.5" stroke-linecap="round"/>
<text x="1381" y="2273.4" font-family="Liberation Sans" font-size="23" fill="#595959" textLength="64" lengthAdjust="spacingAndGlyphs">24/25</text>
<text x="1551" y="2365.2" font-family="Liberation Sans" font-weight="normal" font-size="19.5" fill="#111111" textLength="256.5" lengthAdjust="spacingAndGlyphs" text-anchor="start">Source: Reuters, The ICE, CQG</text>
<rect x="62" y="2390" width="1797.5" height="68.5" fill="#060d18"/>
<text x="193.5" y="2433.4" font-family="Liberation Sans" font-size="27" fill="#e8e8e8" textLength="227.5" lengthAdjust="spacingAndGlyphs">Miami Cocoa Desk</text>
<text x="573.5" y="2433.4" font-family="Liberation Sans" font-size="27" fill="#e8e8e8" textLength="386.5" lengthAdjust="spacingAndGlyphs">CocoaOrderDesk@StoneX.com</text>
<rect x="573.5" y="2436.8" width="386.5" height="2.4" fill="#e8e8e8"/>
<text x="1089.5" y="2436.8" font-family="Liberation Sans" font-size="27" fill="#e8e8e8" textLength="202" lengthAdjust="spacingAndGlyphs">+1.305.925.4847</text>
<text x="1409.5" y="2435" font-family="Liberation Sans" font-size="27" fill="#e8e8e8" textLength="325.5" lengthAdjust="spacingAndGlyphs">StoneX Market Intelligence</text>
<rect x="1409.5" y="2438" width="325.5" height="2.4" fill="#e8e8e8"/>
<rect x="496.1" y="2409" width="2.5" height="36" fill="#a9adb3"/>
<rect x="1022.8" y="2409" width="2.5" height="36" fill="#a9adb3"/>
<rect x="1345.8" y="2409" width="2.5" height="36" fill="#a9adb3"/>
<text x="104" y="2484.1" font-family="Liberation Sans" font-size="12.6" fill="#1a1a1a" textLength="1690.5" lengthAdjust="spacingAndGlyphs"><tspan font-weight="bold">This material should be construed as market commentary, merely observing economic, political and/or market conditions, and not intended to refer to any particular trading strategy, promotional element or quality of service provided by the FCM Division of INTL</tspan></text>
<text x="104" y="2500.3" font-family="Liberation Sans" font-size="12.6" fill="#1a1a1a" textLength="1677" lengthAdjust="spacingAndGlyphs"><tspan font-weight="bold">FCStone Financial Inc.</tspan> The FCM Division of INTL FCStone Financial Inc. is not responsible for any redistribution of this material by third parties, or any trading decisions taken by persons not intended to view this material. Information contained herein was obtained from sources</text>
<text x="104" y="2515.5" font-family="Liberation Sans" font-size="12.6" fill="#1a1a1a" textLength="1698.5" lengthAdjust="spacingAndGlyphs">believed to be reliable, but is not guaranteed as to its accuracy. Contact designated personnel from the FCM Division of INTL FCStone Financial Inc. for specific trading advice to meet your trading preferences. These materials represent the opinions and viewpoints of the author, and</text>
<text x="104" y="2531.7" font-family="Liberation Sans" font-size="12.6" fill="#1a1a1a" textLength="751" lengthAdjust="spacingAndGlyphs">do not necessarily reflect the viewpoints and trading strategies employed by the FCM Division of INTL FCStone Financial Inc.</text>
</svg>
</body></html>
